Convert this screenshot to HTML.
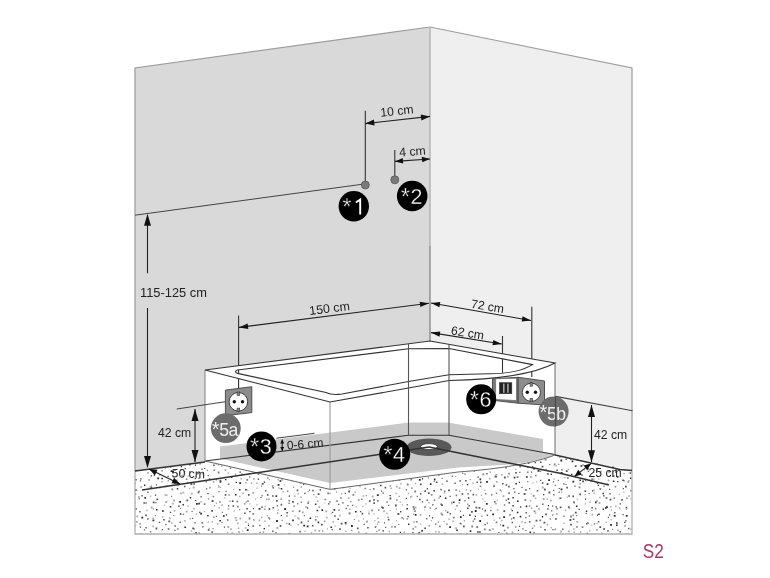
<!DOCTYPE html>
<html><head><meta charset="utf-8"><style>
html,body{margin:0;padding:0;background:#fff;width:770px;height:578px;overflow:hidden}
svg{display:block;will-change:transform}
</style></head><body><svg width="770" height="578" viewBox="0 0 770 578" font-family='"Liberation Sans", sans-serif'><polygon points="135,68 430,27 430,436 135,471" fill="#d9d9d9" stroke="none" stroke-width="1" /><polygon points="430,27 632,68 632,470 430,436" fill="#efefef" stroke="none" stroke-width="1" /><path d="M135,471 L135,68 L430,27 L632,68 L632,470" fill="none" stroke="#9c9c9c" stroke-width="1.2" /><line x1="430" y1="27" x2="430" y2="246" stroke="#b8b8b8" stroke-width="1.6"/><line x1="430" y1="246" x2="430" y2="341" stroke="#8a8a8a" stroke-width="1.4"/><clipPath id="fc"><polygon points="135,471 205,462 430,434 555,455 632,470 632,534 135,534"/></clipPath><polygon points="135,471 205,462 430,434 555,455 632,470 632,534 135,534" fill="#ffffff" stroke="none" stroke-width="1" /><g clip-path="url(#fc)"><path d="M144.0 428.3h1.2v1.2h-1.2zM158.0 429.1h1.8v1.8h-1.8zM167.0 426.8h1.6v1.6h-1.6zM173.8 429.7h1.4v1.4h-1.4zM178.2 429.0h1.2v1.2h-1.2zM246.7 430.1h1.4v1.4h-1.4zM311.8 429.2h1.4v1.4h-1.4zM326.7 429.3h1.6v1.6h-1.6zM354.1 428.9h1.2v1.2h-1.2zM486.9 428.8h1.8v1.8h-1.8zM553.0 430.8h1.6v1.6h-1.6zM570.3 430.5h1.8v1.8h-1.8zM577.5 429.9h1.8v1.8h-1.8zM623.8 427.5h1.2v1.2h-1.2zM631.2 426.7h1.8v1.8h-1.8zM138.0 432.8h1.4v1.4h-1.4zM150.8 434.1h1.6v1.6h-1.6zM158.9 436.8h1.2v1.2h-1.2zM183.8 433.3h1.4v1.4h-1.4zM201.0 435.1h1.4v1.4h-1.4zM225.3 435.8h1.2v1.2h-1.2zM250.3 434.9h1.8v1.8h-1.8zM255.8 435.8h1.2v1.2h-1.2zM270.0 433.8h1.2v1.2h-1.2zM309.1 434.9h1.4v1.4h-1.4zM329.9 433.9h1.4v1.4h-1.4zM377.7 435.9h1.6v1.6h-1.6zM394.3 436.1h1.8v1.8h-1.8zM418.0 433.7h1.8v1.8h-1.8zM433.5 432.9h1.4v1.4h-1.4zM477.6 432.5h1.8v1.8h-1.8zM516.2 434.0h1.8v1.8h-1.8zM521.7 432.7h1.4v1.4h-1.4zM522.6 436.6h1.8v1.8h-1.8zM527.7 435.6h1.4v1.4h-1.4zM547.2 432.0h1.4v1.4h-1.4zM588.6 433.5h1.6v1.6h-1.6zM604.2 436.2h1.8v1.8h-1.8zM149.1 439.2h1.2v1.2h-1.2zM164.4 439.1h1.8v1.8h-1.8zM172.8 441.6h1.8v1.8h-1.8zM245.1 438.1h1.2v1.2h-1.2zM249.0 439.7h1.8v1.8h-1.8zM333.0 438.6h1.6v1.6h-1.6zM363.3 437.3h1.6v1.6h-1.6zM420.8 441.3h1.8v1.8h-1.8zM493.8 439.0h1.6v1.6h-1.6zM509.8 439.6h1.8v1.8h-1.8zM514.5 441.0h1.2v1.2h-1.2zM557.9 441.6h1.6v1.6h-1.6zM135.2 443.6h1.6v1.6h-1.6zM145.1 447.1h1.2v1.2h-1.2zM151.4 443.5h1.2v1.2h-1.2zM182.0 445.7h1.2v1.2h-1.2zM188.4 445.7h1.6v1.6h-1.6zM227.3 445.1h1.2v1.2h-1.2zM241.8 442.3h1.4v1.4h-1.4zM248.3 443.0h1.2v1.2h-1.2zM252.5 445.7h1.2v1.2h-1.2zM274.0 443.3h1.2v1.2h-1.2zM296.7 444.5h1.6v1.6h-1.6zM334.4 446.3h1.6v1.6h-1.6zM394.1 444.0h1.8v1.8h-1.8zM401.2 446.2h1.8v1.8h-1.8zM447.3 444.3h1.8v1.8h-1.8zM494.0 444.8h1.8v1.8h-1.8zM505.8 445.1h1.4v1.4h-1.4zM539.5 444.4h1.8v1.8h-1.8zM158.2 448.2h1.8v1.8h-1.8zM192.4 451.3h1.6v1.6h-1.6zM236.6 451.5h1.2v1.2h-1.2zM273.9 448.6h1.2v1.2h-1.2zM290.6 447.8h1.2v1.2h-1.2zM313.8 449.8h1.8v1.8h-1.8zM317.7 448.4h1.2v1.2h-1.2zM358.3 447.7h1.2v1.2h-1.2zM402.3 451.5h1.4v1.4h-1.4zM418.2 449.1h1.6v1.6h-1.6zM456.6 450.8h1.8v1.8h-1.8zM480.8 450.4h1.2v1.2h-1.2zM492.8 451.9h1.2v1.2h-1.2zM496.7 450.4h1.2v1.2h-1.2zM537.6 451.4h1.6v1.6h-1.6zM554.2 448.8h1.6v1.6h-1.6zM615.3 448.9h1.6v1.6h-1.6zM619.8 448.8h1.8v1.8h-1.8zM632.1 448.9h1.6v1.6h-1.6zM140.9 455.6h1.2v1.2h-1.2zM169.9 458.3h1.2v1.2h-1.2zM190.1 453.7h1.4v1.4h-1.4zM196.2 454.1h1.2v1.2h-1.2zM211.7 454.1h1.8v1.8h-1.8zM337.2 457.6h1.4v1.4h-1.4zM347.2 453.1h1.4v1.4h-1.4zM374.0 457.4h1.2v1.2h-1.2zM442.4 457.2h1.2v1.2h-1.2zM611.9 453.1h1.2v1.2h-1.2zM618.6 455.1h1.2v1.2h-1.2zM632.9 455.2h1.4v1.4h-1.4zM135.8 461.2h1.2v1.2h-1.2zM148.2 458.7h1.6v1.6h-1.6zM177.1 461.6h1.2v1.2h-1.2zM284.4 462.3h1.2v1.2h-1.2zM291.7 458.9h1.4v1.4h-1.4zM296.7 462.0h1.6v1.6h-1.6zM342.0 458.6h1.4v1.4h-1.4zM345.9 462.5h1.2v1.2h-1.2zM422.1 459.7h1.6v1.6h-1.6zM454.6 462.5h1.4v1.4h-1.4zM477.0 460.8h1.6v1.6h-1.6zM560.4 459.6h1.8v1.8h-1.8zM571.6 460.4h1.8v1.8h-1.8zM576.6 458.8h1.8v1.8h-1.8zM586.0 458.7h1.4v1.4h-1.4zM155.8 466.9h1.2v1.2h-1.2zM180.7 465.9h1.4v1.4h-1.4zM184.6 468.0h1.2v1.2h-1.2zM189.2 464.1h1.4v1.4h-1.4zM194.9 464.5h1.2v1.2h-1.2zM236.2 463.9h1.6v1.6h-1.6zM259.8 466.4h1.2v1.2h-1.2zM287.4 464.0h1.6v1.6h-1.6zM309.2 467.7h1.8v1.8h-1.8zM419.0 467.0h1.6v1.6h-1.6zM447.6 466.3h1.6v1.6h-1.6zM454.6 469.1h1.6v1.6h-1.6zM477.6 466.4h1.6v1.6h-1.6zM505.3 467.2h1.4v1.4h-1.4zM533.2 467.8h1.8v1.8h-1.8zM633.6 467.7h1.6v1.6h-1.6zM153.7 474.4h1.4v1.4h-1.4zM170.6 470.3h1.6v1.6h-1.6zM172.2 471.0h1.8v1.8h-1.8zM268.8 472.8h1.2v1.2h-1.2zM319.7 469.5h1.6v1.6h-1.6zM363.4 471.0h1.8v1.8h-1.8zM443.6 471.5h1.6v1.6h-1.6zM471.7 469.2h1.6v1.6h-1.6zM515.3 472.1h1.4v1.4h-1.4zM537.6 469.9h1.8v1.8h-1.8zM550.6 473.7h1.4v1.4h-1.4zM560.8 472.1h1.8v1.8h-1.8zM571.0 473.7h1.4v1.4h-1.4zM615.4 471.2h1.6v1.6h-1.6zM135.2 479.1h1.4v1.4h-1.4zM140.3 478.2h1.2v1.2h-1.2zM157.3 477.5h1.8v1.8h-1.8zM161.3 477.7h1.6v1.6h-1.6zM194.7 478.0h1.2v1.2h-1.2zM225.0 478.9h1.4v1.4h-1.4zM231.0 476.5h1.4v1.4h-1.4zM249.2 476.4h1.2v1.2h-1.2zM315.7 476.8h1.6v1.6h-1.6zM322.0 477.2h1.2v1.2h-1.2zM340.3 477.1h1.6v1.6h-1.6zM361.9 476.4h1.4v1.4h-1.4zM418.9 479.0h1.8v1.8h-1.8zM421.9 478.3h1.2v1.2h-1.2zM433.9 478.6h1.6v1.6h-1.6zM477.5 476.5h1.2v1.2h-1.2zM479.5 478.6h1.6v1.6h-1.6zM513.7 476.8h1.6v1.6h-1.6zM548.2 479.3h1.8v1.8h-1.8zM579.4 479.5h1.6v1.6h-1.6zM584.9 479.6h1.2v1.2h-1.2zM616.9 476.1h1.6v1.6h-1.6zM629.9 477.4h1.6v1.6h-1.6zM144.0 484.5h1.4v1.4h-1.4zM193.4 483.3h1.4v1.4h-1.4zM219.7 481.1h1.6v1.6h-1.6zM235.6 481.7h1.4v1.4h-1.4zM239.3 482.3h1.8v1.8h-1.8zM263.7 481.4h1.4v1.4h-1.4zM277.6 483.9h1.8v1.8h-1.8zM347.9 484.8h1.4v1.4h-1.4zM352.4 484.0h1.2v1.2h-1.2zM359.3 481.1h1.8v1.8h-1.8zM372.0 480.8h1.2v1.2h-1.2zM380.1 484.8h1.4v1.4h-1.4zM429.9 483.3h1.6v1.6h-1.6zM446.2 480.4h1.4v1.4h-1.4zM466.9 483.9h1.4v1.4h-1.4zM486.1 480.9h1.8v1.8h-1.8zM515.3 482.9h1.6v1.6h-1.6zM518.7 481.8h1.2v1.2h-1.2zM541.9 482.3h1.4v1.4h-1.4zM546.7 483.3h1.6v1.6h-1.6zM572.4 480.8h1.8v1.8h-1.8zM612.8 480.4h1.6v1.6h-1.6zM617.2 481.0h1.2v1.2h-1.2zM627.5 481.2h1.2v1.2h-1.2zM135.0 489.3h1.6v1.6h-1.6zM176.8 488.0h1.4v1.4h-1.4zM239.1 489.1h1.4v1.4h-1.4zM245.2 489.0h1.6v1.6h-1.6zM280.7 488.0h1.6v1.6h-1.6zM319.6 489.2h1.4v1.4h-1.4zM333.7 487.7h1.8v1.8h-1.8zM433.5 490.1h1.4v1.4h-1.4zM560.6 488.5h1.8v1.8h-1.8zM592.0 490.3h1.2v1.2h-1.2zM154.9 494.5h1.2v1.2h-1.2zM228.5 494.4h1.2v1.2h-1.2zM234.9 493.9h1.6v1.6h-1.6zM267.0 494.3h1.4v1.4h-1.4zM275.5 495.3h1.6v1.6h-1.6zM288.8 495.5h1.2v1.2h-1.2zM304.3 492.7h1.2v1.2h-1.2zM376.9 494.2h1.8v1.8h-1.8zM389.5 494.9h1.4v1.4h-1.4zM420.0 493.2h1.4v1.4h-1.4zM431.2 494.2h1.2v1.2h-1.2zM439.7 495.7h1.4v1.4h-1.4zM467.5 493.2h1.2v1.2h-1.2zM514.2 491.6h1.2v1.2h-1.2zM518.3 492.9h1.2v1.2h-1.2zM543.1 494.1h1.2v1.2h-1.2zM602.5 492.8h1.4v1.4h-1.4zM603.1 495.2h1.4v1.4h-1.4zM609.4 493.2h1.2v1.2h-1.2zM633.2 494.6h1.4v1.4h-1.4zM138.3 496.4h1.2v1.2h-1.2zM144.4 497.1h1.6v1.6h-1.6zM179.2 501.0h1.8v1.8h-1.8zM189.8 497.0h1.4v1.4h-1.4zM195.1 499.9h1.2v1.2h-1.2zM396.3 499.4h1.2v1.2h-1.2zM444.9 497.5h1.6v1.6h-1.6zM453.0 501.5h1.6v1.6h-1.6zM458.7 499.3h1.8v1.8h-1.8zM467.9 497.3h1.4v1.4h-1.4zM507.6 498.2h1.6v1.6h-1.6zM512.4 497.0h1.4v1.4h-1.4zM517.0 500.5h1.6v1.6h-1.6zM559.5 497.5h1.4v1.4h-1.4zM585.0 498.5h1.2v1.2h-1.2zM169.7 505.9h1.6v1.6h-1.6zM182.5 504.0h1.4v1.4h-1.4zM196.0 503.0h1.8v1.8h-1.8zM198.3 502.8h1.6v1.6h-1.6zM228.1 505.2h1.2v1.2h-1.2zM307.4 502.4h1.4v1.4h-1.4zM315.0 503.5h1.4v1.4h-1.4zM381.4 506.5h1.4v1.4h-1.4zM441.3 504.5h1.6v1.6h-1.6zM468.5 505.2h1.4v1.4h-1.4zM485.9 503.0h1.8v1.8h-1.8zM508.5 502.0h1.4v1.4h-1.4zM512.4 505.1h1.4v1.4h-1.4zM525.7 505.6h1.6v1.6h-1.6zM547.8 505.1h1.2v1.2h-1.2zM555.6 506.2h1.2v1.2h-1.2zM575.9 505.5h1.6v1.6h-1.6zM595.0 501.6h1.6v1.6h-1.6zM606.1 506.3h1.8v1.8h-1.8zM619.7 503.3h1.2v1.2h-1.2zM156.0 508.9h1.6v1.6h-1.6zM249.4 511.0h1.2v1.2h-1.2zM258.6 508.0h1.8v1.8h-1.8zM268.6 508.2h1.6v1.6h-1.6zM284.2 508.1h1.8v1.8h-1.8zM316.6 509.7h1.6v1.6h-1.6zM321.5 509.3h1.6v1.6h-1.6zM333.6 509.1h1.6v1.6h-1.6zM355.0 510.9h1.6v1.6h-1.6zM406.3 507.9h1.6v1.6h-1.6zM467.1 507.5h1.4v1.4h-1.4zM474.8 510.1h1.8v1.8h-1.8zM511.7 510.0h1.2v1.2h-1.2zM516.8 511.7h1.6v1.6h-1.6zM585.8 510.6h1.4v1.4h-1.4zM602.6 508.6h1.4v1.4h-1.4zM141.4 516.8h1.8v1.8h-1.8zM179.9 513.3h1.4v1.4h-1.4zM200.2 512.8h1.8v1.8h-1.8zM207.2 515.1h1.4v1.4h-1.4zM225.9 514.2h1.2v1.2h-1.2zM280.7 514.9h1.2v1.2h-1.2zM309.6 517.5h1.6v1.6h-1.6zM414.9 514.1h1.6v1.6h-1.6zM431.9 517.2h1.2v1.2h-1.2zM459.9 516.2h1.8v1.8h-1.8zM474.8 515.8h1.2v1.2h-1.2zM492.2 513.4h1.8v1.8h-1.8zM503.2 516.3h1.8v1.8h-1.8zM519.7 515.8h1.6v1.6h-1.6zM541.8 516.1h1.4v1.4h-1.4zM552.2 514.4h1.2v1.2h-1.2zM596.9 514.6h1.2v1.2h-1.2zM598.3 513.5h1.4v1.4h-1.4zM613.8 515.0h1.8v1.8h-1.8zM625.8 514.9h1.8v1.8h-1.8zM152.5 519.5h1.8v1.8h-1.8zM219.3 520.0h1.6v1.6h-1.6zM276.1 520.1h1.8v1.8h-1.8zM292.2 519.6h1.6v1.6h-1.6zM317.6 521.6h1.6v1.6h-1.6zM344.7 522.0h1.8v1.8h-1.8zM479.3 520.1h1.8v1.8h-1.8zM529.0 521.2h1.4v1.4h-1.4zM549.7 518.4h1.2v1.2h-1.2zM616.0 522.2h1.6v1.6h-1.6zM624.2 521.7h1.2v1.2h-1.2zM184.4 526.4h1.6v1.6h-1.6zM193.4 528.4h1.2v1.2h-1.2zM247.9 524.7h1.2v1.2h-1.2zM263.6 527.9h1.4v1.4h-1.4zM279.7 525.2h1.6v1.6h-1.6zM288.7 523.3h1.4v1.4h-1.4zM303.3 524.8h1.8v1.8h-1.8zM306.7 525.4h1.8v1.8h-1.8zM330.5 526.5h1.6v1.6h-1.6zM351.0 525.1h1.8v1.8h-1.8zM394.4 526.2h1.4v1.4h-1.4zM408.0 523.5h1.4v1.4h-1.4zM424.4 527.6h1.4v1.4h-1.4zM449.2 526.2h1.8v1.8h-1.8zM460.5 523.4h1.2v1.2h-1.2zM502.4 524.7h1.8v1.8h-1.8zM603.3 528.2h1.6v1.6h-1.6zM610.1 524.0h1.8v1.8h-1.8zM616.0 524.5h1.6v1.6h-1.6zM158.5 533.9h1.6v1.6h-1.6zM195.3 532.3h1.8v1.8h-1.8zM246.8 529.2h1.8v1.8h-1.8zM288.2 533.2h1.6v1.6h-1.6zM382.5 530.2h1.4v1.4h-1.4zM399.8 531.7h1.2v1.2h-1.2zM421.3 530.1h1.6v1.6h-1.6zM428.0 533.6h1.6v1.6h-1.6zM456.2 529.5h1.6v1.6h-1.6zM466.1 533.2h1.6v1.6h-1.6zM469.7 530.3h1.6v1.6h-1.6zM477.2 531.3h1.4v1.4h-1.4zM506.0 532.8h1.6v1.6h-1.6zM529.5 531.5h1.6v1.6h-1.6zM533.4 532.2h1.4v1.4h-1.4zM619.6 531.2h1.4v1.4h-1.4zM632.7 530.7h1.2v1.2h-1.2zM147.1 538.4h1.4v1.4h-1.4zM169.1 537.9h1.2v1.2h-1.2zM189.6 539.3h1.4v1.4h-1.4zM205.9 535.2h1.8v1.8h-1.8zM284.3 537.3h1.2v1.2h-1.2zM296.2 534.3h1.2v1.2h-1.2zM321.1 537.7h1.2v1.2h-1.2zM332.6 538.7h1.8v1.8h-1.8zM348.8 534.4h1.6v1.6h-1.6zM350.1 539.0h1.6v1.6h-1.6zM381.8 536.4h1.8v1.8h-1.8zM413.3 534.5h1.4v1.4h-1.4zM420.5 535.8h1.6v1.6h-1.6zM433.2 537.4h1.6v1.6h-1.6zM442.8 535.2h1.8v1.8h-1.8zM462.5 535.9h1.2v1.2h-1.2zM472.9 536.6h1.6v1.6h-1.6zM478.4 534.5h1.8v1.8h-1.8zM480.5 535.3h1.8v1.8h-1.8zM548.5 536.7h1.4v1.4h-1.4zM580.5 537.4h1.2v1.2h-1.2zM601.0 535.6h1.8v1.8h-1.8zM621.4 534.6h1.6v1.6h-1.6z" fill="#2a2a2a"/><path d="M189.5 431.0h1.4v1.4h-1.4zM196.7 429.8h1.6v1.6h-1.6zM225.2 426.5h1.2v1.2h-1.2zM267.3 427.5h1.6v1.6h-1.6zM271.7 428.1h1.2v1.2h-1.2zM274.4 427.3h1.8v1.8h-1.8zM283.3 427.0h1.4v1.4h-1.4zM306.1 426.4h1.4v1.4h-1.4zM363.6 427.4h1.4v1.4h-1.4zM391.1 428.6h1.6v1.6h-1.6zM418.3 426.6h1.4v1.4h-1.4zM459.8 431.0h1.4v1.4h-1.4zM466.9 427.1h1.6v1.6h-1.6zM470.5 430.1h1.8v1.8h-1.8zM510.4 426.3h1.2v1.2h-1.2zM537.6 430.8h1.8v1.8h-1.8zM538.7 426.7h1.2v1.2h-1.2zM547.0 428.3h1.6v1.6h-1.6zM575.8 428.2h1.6v1.6h-1.6zM583.6 426.1h1.6v1.6h-1.6zM597.2 426.6h1.2v1.2h-1.2zM143.5 436.6h1.4v1.4h-1.4zM144.9 433.1h1.4v1.4h-1.4zM164.0 434.4h1.8v1.8h-1.8zM179.9 436.7h1.4v1.4h-1.4zM204.1 433.8h1.6v1.6h-1.6zM213.9 434.4h1.6v1.6h-1.6zM215.2 432.4h1.2v1.2h-1.2zM222.0 434.1h1.2v1.2h-1.2zM294.0 436.0h1.4v1.4h-1.4zM300.8 436.3h1.2v1.2h-1.2zM316.7 431.7h1.2v1.2h-1.2zM325.7 435.0h1.6v1.6h-1.6zM364.6 435.2h1.8v1.8h-1.8zM372.8 435.3h1.8v1.8h-1.8zM391.7 433.0h1.8v1.8h-1.8zM401.7 436.0h1.2v1.2h-1.2zM413.6 433.8h1.6v1.6h-1.6zM424.9 435.4h1.4v1.4h-1.4zM436.3 433.6h1.6v1.6h-1.6zM444.8 436.7h1.4v1.4h-1.4zM447.8 434.4h1.4v1.4h-1.4zM460.0 433.8h1.8v1.8h-1.8zM464.7 434.4h1.4v1.4h-1.4zM469.6 431.9h1.6v1.6h-1.6zM480.7 435.4h1.6v1.6h-1.6zM485.8 431.7h1.6v1.6h-1.6zM495.3 436.2h1.8v1.8h-1.8zM557.1 436.8h1.6v1.6h-1.6zM568.0 431.6h1.6v1.6h-1.6zM576.2 432.6h1.6v1.6h-1.6zM582.4 431.6h1.8v1.8h-1.8zM596.0 434.1h1.4v1.4h-1.4zM599.1 435.8h1.4v1.4h-1.4zM618.7 432.2h1.4v1.4h-1.4zM619.1 434.6h1.2v1.2h-1.2zM138.6 440.4h1.6v1.6h-1.6zM157.6 440.9h1.6v1.6h-1.6zM166.5 439.7h1.6v1.6h-1.6zM177.5 440.2h1.8v1.8h-1.8zM219.2 438.9h1.8v1.8h-1.8zM233.5 438.6h1.6v1.6h-1.6zM256.6 442.1h1.2v1.2h-1.2zM277.6 438.4h1.6v1.6h-1.6zM280.8 440.8h1.4v1.4h-1.4zM285.2 438.1h1.4v1.4h-1.4zM310.7 437.0h1.2v1.2h-1.2zM348.0 439.0h1.6v1.6h-1.6zM354.7 437.3h1.4v1.4h-1.4zM367.4 438.3h1.2v1.2h-1.2zM372.3 439.9h1.8v1.8h-1.8zM403.5 440.2h1.4v1.4h-1.4zM445.3 437.8h1.8v1.8h-1.8zM451.3 437.6h1.4v1.4h-1.4zM471.3 438.5h1.8v1.8h-1.8zM476.8 439.2h1.2v1.2h-1.2zM497.1 437.3h1.2v1.2h-1.2zM522.5 441.6h1.4v1.4h-1.4zM530.9 440.7h1.6v1.6h-1.6zM535.9 438.2h1.6v1.6h-1.6zM542.9 439.3h1.8v1.8h-1.8zM550.8 437.9h1.6v1.6h-1.6zM583.0 437.2h1.2v1.2h-1.2zM588.2 439.6h1.6v1.6h-1.6zM596.0 440.8h1.6v1.6h-1.6zM608.5 439.9h1.6v1.6h-1.6zM616.5 439.0h1.4v1.4h-1.4zM169.8 443.1h1.6v1.6h-1.6zM206.7 447.4h1.2v1.2h-1.2zM219.1 446.2h1.8v1.8h-1.8zM288.7 445.6h1.2v1.2h-1.2zM314.5 442.4h1.8v1.8h-1.8zM330.5 443.8h1.4v1.4h-1.4zM368.6 444.1h1.8v1.8h-1.8zM375.4 446.2h1.2v1.2h-1.2zM378.0 443.8h1.4v1.4h-1.4zM383.4 447.0h1.8v1.8h-1.8zM406.7 443.6h1.6v1.6h-1.6zM410.9 447.0h1.4v1.4h-1.4zM425.5 444.0h1.2v1.2h-1.2zM430.9 445.8h1.4v1.4h-1.4zM456.2 444.6h1.6v1.6h-1.6zM476.9 445.7h1.6v1.6h-1.6zM549.4 443.8h1.4v1.4h-1.4zM567.5 445.2h1.4v1.4h-1.4zM588.0 444.2h1.8v1.8h-1.8zM599.3 445.7h1.8v1.8h-1.8zM609.0 443.8h1.2v1.2h-1.2zM625.5 442.6h1.2v1.2h-1.2zM632.9 446.8h1.8v1.8h-1.8zM185.2 452.1h1.8v1.8h-1.8zM209.1 451.2h1.4v1.4h-1.4zM215.5 449.4h1.2v1.2h-1.2zM249.3 447.9h1.2v1.2h-1.2zM283.7 451.1h1.4v1.4h-1.4zM288.4 450.6h1.6v1.6h-1.6zM303.5 452.6h1.2v1.2h-1.2zM351.5 452.6h1.2v1.2h-1.2zM384.0 451.8h1.6v1.6h-1.6zM391.0 450.7h1.2v1.2h-1.2zM406.2 449.3h1.4v1.4h-1.4zM447.9 447.9h1.4v1.4h-1.4zM470.4 450.8h1.4v1.4h-1.4zM473.7 452.0h1.6v1.6h-1.6zM507.0 451.8h1.8v1.8h-1.8zM544.4 452.2h1.4v1.4h-1.4zM578.3 449.6h1.6v1.6h-1.6zM583.8 448.5h1.4v1.4h-1.4zM612.7 451.0h1.6v1.6h-1.6zM156.9 454.4h1.4v1.4h-1.4zM183.5 453.2h1.6v1.6h-1.6zM234.9 454.4h1.6v1.6h-1.6zM343.4 458.0h1.8v1.8h-1.8zM355.6 455.3h1.8v1.8h-1.8zM365.4 456.5h1.6v1.6h-1.6zM377.4 455.8h1.2v1.2h-1.2zM398.3 453.7h1.8v1.8h-1.8zM422.5 455.5h1.4v1.4h-1.4zM437.1 454.8h1.4v1.4h-1.4zM480.8 453.6h1.2v1.2h-1.2zM518.8 455.0h1.6v1.6h-1.6zM600.1 454.0h1.2v1.2h-1.2zM150.0 459.7h1.2v1.2h-1.2zM161.9 460.8h1.2v1.2h-1.2zM173.2 461.7h1.2v1.2h-1.2zM186.5 462.8h1.6v1.6h-1.6zM203.7 459.3h1.2v1.2h-1.2zM215.8 463.1h1.2v1.2h-1.2zM226.9 460.9h1.8v1.8h-1.8zM230.4 462.0h1.4v1.4h-1.4zM236.9 459.1h1.4v1.4h-1.4zM255.2 461.5h1.8v1.8h-1.8zM259.9 459.6h1.4v1.4h-1.4zM271.2 460.4h1.4v1.4h-1.4zM304.7 462.5h1.6v1.6h-1.6zM321.7 459.4h1.6v1.6h-1.6zM328.7 463.0h1.2v1.2h-1.2zM357.5 462.3h1.8v1.8h-1.8zM369.7 462.6h1.2v1.2h-1.2zM379.7 458.6h1.6v1.6h-1.6zM392.2 461.7h1.2v1.2h-1.2zM394.1 463.5h1.6v1.6h-1.6zM405.7 462.1h1.4v1.4h-1.4zM445.9 460.3h1.4v1.4h-1.4zM463.0 460.0h1.4v1.4h-1.4zM468.0 463.2h1.2v1.2h-1.2zM481.0 461.5h1.2v1.2h-1.2zM495.4 461.0h1.4v1.4h-1.4zM504.4 460.1h1.2v1.2h-1.2zM520.6 462.9h1.4v1.4h-1.4zM527.8 462.3h1.6v1.6h-1.6zM534.6 461.9h1.4v1.4h-1.4zM540.0 461.4h1.6v1.6h-1.6zM565.5 458.6h1.4v1.4h-1.4zM591.5 459.3h1.8v1.8h-1.8zM134.9 465.1h1.6v1.6h-1.6zM204.1 467.8h1.2v1.2h-1.2zM213.1 464.5h1.6v1.6h-1.6zM229.8 467.4h1.4v1.4h-1.4zM242.0 466.8h1.8v1.8h-1.8zM250.9 467.0h1.6v1.6h-1.6zM256.9 463.9h1.4v1.4h-1.4zM280.7 466.7h1.4v1.4h-1.4zM312.7 466.5h1.4v1.4h-1.4zM340.9 467.2h1.8v1.8h-1.8zM397.1 465.3h1.2v1.2h-1.2zM401.7 467.2h1.2v1.2h-1.2zM404.2 466.0h1.6v1.6h-1.6zM413.1 467.3h1.2v1.2h-1.2zM423.1 463.8h1.2v1.2h-1.2zM428.1 468.8h1.6v1.6h-1.6zM457.8 463.9h1.2v1.2h-1.2zM464.3 465.8h1.4v1.4h-1.4zM471.3 467.0h1.6v1.6h-1.6zM486.0 466.7h1.6v1.6h-1.6zM495.6 467.2h1.2v1.2h-1.2zM532.1 465.9h1.2v1.2h-1.2zM541.6 465.7h1.8v1.8h-1.8zM561.2 469.2h1.4v1.4h-1.4zM574.8 465.3h1.8v1.8h-1.8zM580.5 465.1h1.8v1.8h-1.8zM586.8 468.0h1.8v1.8h-1.8zM596.7 469.2h1.2v1.2h-1.2zM612.3 466.3h1.8v1.8h-1.8zM624.3 464.0h1.2v1.2h-1.2zM624.6 466.5h1.8v1.8h-1.8zM141.2 469.2h1.4v1.4h-1.4zM159.2 474.4h1.2v1.2h-1.2zM161.5 470.2h1.2v1.2h-1.2zM183.8 470.9h1.4v1.4h-1.4zM189.1 471.3h1.4v1.4h-1.4zM197.2 472.6h1.6v1.6h-1.6zM254.6 471.8h1.4v1.4h-1.4zM257.6 473.3h1.4v1.4h-1.4zM265.4 473.6h1.4v1.4h-1.4zM279.5 470.0h1.2v1.2h-1.2zM292.0 469.7h1.8v1.8h-1.8zM327.0 470.6h1.8v1.8h-1.8zM333.5 474.4h1.6v1.6h-1.6zM343.2 473.1h1.2v1.2h-1.2zM347.4 470.8h1.6v1.6h-1.6zM390.4 473.2h1.2v1.2h-1.2zM397.2 470.8h1.8v1.8h-1.8zM401.8 469.8h1.2v1.2h-1.2zM423.8 470.0h1.2v1.2h-1.2zM429.3 470.0h1.2v1.2h-1.2zM447.5 471.3h1.6v1.6h-1.6zM453.2 469.9h1.6v1.6h-1.6zM464.4 473.5h1.2v1.2h-1.2zM473.4 470.4h1.4v1.4h-1.4zM486.2 473.1h1.4v1.4h-1.4zM519.2 471.7h1.2v1.2h-1.2zM531.0 471.6h1.2v1.2h-1.2zM547.2 473.1h1.6v1.6h-1.6zM556.3 469.4h1.6v1.6h-1.6zM565.8 470.2h1.8v1.8h-1.8zM587.7 470.7h1.2v1.2h-1.2zM608.5 471.0h1.4v1.4h-1.4zM630.0 472.3h1.4v1.4h-1.4zM150.6 475.2h1.4v1.4h-1.4zM167.4 475.7h1.4v1.4h-1.4zM185.9 478.4h1.4v1.4h-1.4zM198.3 477.7h1.2v1.2h-1.2zM207.6 475.0h1.2v1.2h-1.2zM219.5 479.7h1.8v1.8h-1.8zM257.7 478.5h1.4v1.4h-1.4zM320.2 479.5h1.6v1.6h-1.6zM332.1 477.2h1.6v1.6h-1.6zM335.3 476.4h1.6v1.6h-1.6zM351.2 477.5h1.4v1.4h-1.4zM380.6 479.8h1.2v1.2h-1.2zM398.3 478.7h1.8v1.8h-1.8zM403.4 478.0h1.6v1.6h-1.6zM465.1 479.9h1.6v1.6h-1.6zM494.6 475.6h1.8v1.8h-1.8zM495.9 476.3h1.2v1.2h-1.2zM503.9 476.6h1.8v1.8h-1.8zM525.9 476.1h1.8v1.8h-1.8zM539.9 479.7h1.4v1.4h-1.4zM567.2 477.3h1.4v1.4h-1.4zM622.3 479.5h1.6v1.6h-1.6zM139.9 480.3h1.2v1.2h-1.2zM155.8 484.3h1.2v1.2h-1.2zM190.5 483.1h1.8v1.8h-1.8zM261.8 482.9h1.8v1.8h-1.8zM279.5 480.1h1.8v1.8h-1.8zM303.0 483.5h1.4v1.4h-1.4zM314.4 480.7h1.8v1.8h-1.8zM338.8 482.7h1.4v1.4h-1.4zM389.6 485.2h1.2v1.2h-1.2zM419.9 483.5h1.8v1.8h-1.8zM433.7 480.5h1.2v1.2h-1.2zM435.9 481.5h1.6v1.6h-1.6zM454.4 482.5h1.4v1.4h-1.4zM476.5 481.6h1.4v1.4h-1.4zM480.0 481.6h1.6v1.6h-1.6zM496.3 481.3h1.2v1.2h-1.2zM502.0 482.9h1.6v1.6h-1.6zM505.6 484.2h1.6v1.6h-1.6zM552.9 481.3h1.2v1.2h-1.2zM582.2 480.5h1.8v1.8h-1.8zM596.7 482.5h1.4v1.4h-1.4zM597.6 484.5h1.4v1.4h-1.4zM607.1 483.6h1.2v1.2h-1.2zM623.5 480.3h1.2v1.2h-1.2zM150.4 486.4h1.8v1.8h-1.8zM166.7 485.6h1.2v1.2h-1.2zM183.9 485.7h1.6v1.6h-1.6zM206.0 488.2h1.2v1.2h-1.2zM265.0 490.0h1.4v1.4h-1.4zM272.5 487.0h1.4v1.4h-1.4zM296.7 489.6h1.6v1.6h-1.6zM300.6 486.4h1.2v1.2h-1.2zM308.9 489.6h1.2v1.2h-1.2zM325.0 486.9h1.4v1.4h-1.4zM332.8 486.1h1.2v1.2h-1.2zM348.2 490.6h1.8v1.8h-1.8zM380.9 490.6h1.2v1.2h-1.2zM384.6 486.8h1.6v1.6h-1.6zM424.4 490.3h1.6v1.6h-1.6zM426.7 488.1h1.4v1.4h-1.4zM448.1 489.5h1.8v1.8h-1.8zM493.2 485.4h1.6v1.6h-1.6zM499.7 489.6h1.2v1.2h-1.2zM508.1 485.8h1.6v1.6h-1.6zM513.3 488.0h1.2v1.2h-1.2zM521.4 486.8h1.2v1.2h-1.2zM525.2 489.2h1.6v1.6h-1.6zM529.0 488.1h1.2v1.2h-1.2zM536.7 489.9h1.6v1.6h-1.6zM543.9 488.6h1.8v1.8h-1.8zM553.1 489.7h1.2v1.2h-1.2zM558.7 487.9h1.2v1.2h-1.2zM566.3 486.8h1.6v1.6h-1.6zM584.5 490.3h1.6v1.6h-1.6zM599.5 488.2h1.6v1.6h-1.6zM609.1 488.8h1.2v1.2h-1.2zM622.7 488.0h1.2v1.2h-1.2zM625.0 485.8h1.8v1.8h-1.8zM164.6 494.4h1.2v1.2h-1.2zM197.6 491.4h1.8v1.8h-1.8zM207.3 492.9h1.4v1.4h-1.4zM224.7 494.1h1.6v1.6h-1.6zM248.0 494.1h1.6v1.6h-1.6zM272.1 495.2h1.6v1.6h-1.6zM317.7 493.3h1.8v1.8h-1.8zM344.7 492.8h1.2v1.2h-1.2zM382.5 492.4h1.4v1.4h-1.4zM427.9 492.2h1.8v1.8h-1.8zM449.5 495.7h1.2v1.2h-1.2zM472.6 493.8h1.6v1.6h-1.6zM491.1 494.2h1.4v1.4h-1.4zM523.7 493.1h1.8v1.8h-1.8zM548.5 491.6h1.8v1.8h-1.8zM568.3 495.2h1.6v1.6h-1.6zM572.4 495.6h1.6v1.6h-1.6zM579.3 493.4h1.8v1.8h-1.8zM588.6 492.9h1.2v1.2h-1.2zM628.4 495.4h1.2v1.2h-1.2zM152.8 501.4h1.8v1.8h-1.8zM156.4 498.4h1.8v1.8h-1.8zM186.4 499.4h1.8v1.8h-1.8zM211.7 500.1h1.8v1.8h-1.8zM231.9 500.3h1.6v1.6h-1.6zM260.4 496.9h1.2v1.2h-1.2zM268.4 498.6h1.2v1.2h-1.2zM276.1 500.1h1.6v1.6h-1.6zM292.1 500.9h1.8v1.8h-1.8zM329.3 501.2h1.4v1.4h-1.4zM348.2 497.4h1.2v1.2h-1.2zM368.9 500.2h1.8v1.8h-1.8zM373.2 499.1h1.6v1.6h-1.6zM389.5 497.6h1.8v1.8h-1.8zM405.7 497.7h1.4v1.4h-1.4zM410.1 496.4h1.2v1.2h-1.2zM419.0 498.7h1.6v1.6h-1.6zM421.8 501.2h1.4v1.4h-1.4zM426.5 499.5h1.4v1.4h-1.4zM433.8 499.4h1.4v1.4h-1.4zM473.7 501.2h1.6v1.6h-1.6zM573.2 501.3h1.4v1.4h-1.4zM596.4 500.5h1.2v1.2h-1.2zM609.6 498.7h1.8v1.8h-1.8zM613.6 497.4h1.4v1.4h-1.4zM621.2 499.1h1.6v1.6h-1.6zM155.3 502.0h1.2v1.2h-1.2zM178.1 505.4h1.6v1.6h-1.6zM232.5 505.2h1.6v1.6h-1.6zM272.5 506.9h1.6v1.6h-1.6zM276.8 505.3h1.2v1.2h-1.2zM280.6 503.8h1.6v1.6h-1.6zM288.5 502.8h1.2v1.2h-1.2zM293.5 505.6h1.2v1.2h-1.2zM338.1 503.7h1.2v1.2h-1.2zM342.2 502.2h1.4v1.4h-1.4zM347.3 505.0h1.2v1.2h-1.2zM352.1 504.7h1.2v1.2h-1.2zM373.4 502.3h1.6v1.6h-1.6zM382.0 506.9h1.8v1.8h-1.8zM388.1 504.8h1.2v1.2h-1.2zM395.0 504.6h1.8v1.8h-1.8zM424.3 506.3h1.4v1.4h-1.4zM440.4 503.5h1.4v1.4h-1.4zM475.5 506.8h1.8v1.8h-1.8zM478.6 507.0h1.8v1.8h-1.8zM520.0 506.3h1.4v1.4h-1.4zM536.2 505.6h1.4v1.4h-1.4zM542.1 503.6h1.4v1.4h-1.4zM559.7 506.4h1.8v1.8h-1.8zM567.9 506.3h1.6v1.6h-1.6zM573.7 502.3h1.2v1.2h-1.2zM591.3 506.9h1.6v1.6h-1.6zM625.6 506.8h1.6v1.6h-1.6zM139.2 511.1h1.4v1.4h-1.4zM162.0 510.1h1.8v1.8h-1.8zM169.8 511.7h1.4v1.4h-1.4zM191.5 510.9h1.2v1.2h-1.2zM199.0 511.7h1.4v1.4h-1.4zM211.2 509.9h1.8v1.8h-1.8zM246.3 507.9h1.6v1.6h-1.6zM252.9 508.1h1.2v1.2h-1.2zM286.4 512.0h1.6v1.6h-1.6zM306.9 507.3h1.4v1.4h-1.4zM331.8 511.7h1.4v1.4h-1.4zM338.3 509.4h1.4v1.4h-1.4zM359.9 510.9h1.4v1.4h-1.4zM378.1 509.4h1.4v1.4h-1.4zM400.0 511.1h1.4v1.4h-1.4zM429.6 507.6h1.2v1.2h-1.2zM435.5 507.8h1.2v1.2h-1.2zM446.9 511.4h1.6v1.6h-1.6zM459.9 510.5h1.2v1.2h-1.2zM471.0 510.9h1.8v1.8h-1.8zM481.8 508.6h1.2v1.2h-1.2zM484.5 509.8h1.6v1.6h-1.6zM503.4 510.2h1.8v1.8h-1.8zM525.5 512.0h1.4v1.4h-1.4zM574.9 511.7h1.8v1.8h-1.8zM578.4 508.7h1.4v1.4h-1.4zM604.9 507.1h1.8v1.8h-1.8zM614.1 512.1h1.4v1.4h-1.4zM145.2 514.6h1.6v1.6h-1.6zM192.1 517.8h1.2v1.2h-1.2zM215.8 515.8h1.2v1.2h-1.2zM222.9 515.1h1.8v1.8h-1.8zM244.1 512.5h1.6v1.6h-1.6zM334.1 515.2h1.6v1.6h-1.6zM348.7 512.5h1.8v1.8h-1.8zM361.6 512.8h1.6v1.6h-1.6zM397.5 513.1h1.8v1.8h-1.8zM407.4 515.7h1.6v1.6h-1.6zM429.0 515.3h1.2v1.2h-1.2zM449.6 513.0h1.4v1.4h-1.4zM462.8 514.7h1.2v1.2h-1.2zM469.0 514.2h1.8v1.8h-1.8zM486.7 514.5h1.4v1.4h-1.4zM499.3 517.6h1.2v1.2h-1.2zM512.8 516.9h1.8v1.8h-1.8zM525.3 517.1h1.2v1.2h-1.2zM545.1 513.5h1.8v1.8h-1.8zM585.6 512.7h1.2v1.2h-1.2zM607.8 516.8h1.2v1.2h-1.2zM609.0 514.2h1.2v1.2h-1.2zM622.4 513.9h1.4v1.4h-1.4zM136.2 521.3h1.2v1.2h-1.2zM147.2 518.3h1.4v1.4h-1.4zM158.8 521.7h1.4v1.4h-1.4zM163.1 519.0h1.6v1.6h-1.6zM168.4 520.4h1.8v1.8h-1.8zM227.0 519.3h1.4v1.4h-1.4zM269.1 518.4h1.2v1.2h-1.2zM300.6 521.6h1.8v1.8h-1.8zM337.4 518.5h1.6v1.6h-1.6zM340.7 522.8h1.8v1.8h-1.8zM383.9 522.2h1.2v1.2h-1.2zM387.8 518.8h1.6v1.6h-1.6zM413.5 521.4h1.2v1.2h-1.2zM459.7 522.8h1.2v1.2h-1.2zM473.9 518.3h1.4v1.4h-1.4zM510.9 518.4h1.2v1.2h-1.2zM511.6 521.8h1.4v1.4h-1.4zM535.6 519.8h1.8v1.8h-1.8zM543.5 521.7h1.8v1.8h-1.8zM569.5 519.1h1.8v1.8h-1.8zM572.8 518.4h1.6v1.6h-1.6zM586.1 523.0h1.4v1.4h-1.4zM597.9 521.0h1.4v1.4h-1.4zM634.4 520.2h1.4v1.4h-1.4zM139.8 526.4h1.4v1.4h-1.4zM145.4 527.0h1.4v1.4h-1.4zM155.5 527.6h1.8v1.8h-1.8zM165.3 524.0h1.2v1.2h-1.2zM167.7 528.2h1.6v1.6h-1.6zM174.5 525.3h1.4v1.4h-1.4zM192.3 527.4h1.8v1.8h-1.8zM202.2 526.2h1.4v1.4h-1.4zM223.8 526.4h1.4v1.4h-1.4zM230.4 528.5h1.2v1.2h-1.2zM311.9 524.9h1.6v1.6h-1.6zM320.9 523.7h1.8v1.8h-1.8zM339.2 528.3h1.6v1.6h-1.6zM356.9 527.6h1.6v1.6h-1.6zM363.6 523.7h1.2v1.2h-1.2zM367.1 526.9h1.6v1.6h-1.6zM374.7 526.2h1.6v1.6h-1.6zM385.1 526.7h1.2v1.2h-1.2zM412.5 528.2h1.4v1.4h-1.4zM435.0 523.4h1.4v1.4h-1.4zM455.5 527.6h1.2v1.2h-1.2zM462.9 525.4h1.8v1.8h-1.8zM484.4 523.9h1.4v1.4h-1.4zM500.0 524.4h1.2v1.2h-1.2zM518.9 525.7h1.2v1.2h-1.2zM522.3 528.3h1.2v1.2h-1.2zM562.1 528.5h1.4v1.4h-1.4zM570.1 523.8h1.8v1.8h-1.8zM573.3 528.4h1.2v1.2h-1.2zM593.9 523.3h1.2v1.2h-1.2zM599.4 526.3h1.8v1.8h-1.8zM628.0 527.8h1.4v1.4h-1.4zM133.8 533.6h1.4v1.4h-1.4zM140.6 533.2h1.4v1.4h-1.4zM161.7 528.9h1.4v1.4h-1.4zM168.6 533.9h1.2v1.2h-1.2zM174.3 529.8h1.2v1.2h-1.2zM178.6 533.9h1.6v1.6h-1.6zM216.7 533.6h1.2v1.2h-1.2zM272.1 530.5h1.4v1.4h-1.4zM322.1 530.4h1.2v1.2h-1.2zM331.6 529.0h1.2v1.2h-1.2zM365.6 532.7h1.6v1.6h-1.6zM412.3 531.9h1.4v1.4h-1.4zM418.3 531.9h1.8v1.8h-1.8zM498.2 531.9h1.2v1.2h-1.2zM517.9 529.7h1.2v1.2h-1.2zM525.4 529.9h1.2v1.2h-1.2zM540.7 533.7h1.4v1.4h-1.4zM544.2 529.0h1.6v1.6h-1.6zM552.3 529.1h1.2v1.2h-1.2zM586.4 532.7h1.8v1.8h-1.8zM136.4 534.5h1.4v1.4h-1.4zM154.1 535.2h1.4v1.4h-1.4zM175.7 535.7h1.8v1.8h-1.8zM177.7 539.0h1.6v1.6h-1.6zM247.1 534.1h1.6v1.6h-1.6zM262.5 534.4h1.8v1.8h-1.8zM274.3 535.7h1.8v1.8h-1.8zM283.0 535.0h1.8v1.8h-1.8zM291.9 539.0h1.2v1.2h-1.2zM360.8 535.1h1.2v1.2h-1.2zM393.2 537.1h1.8v1.8h-1.8zM416.6 536.9h1.8v1.8h-1.8zM429.5 539.1h1.2v1.2h-1.2zM449.4 534.6h1.6v1.6h-1.6zM507.1 539.2h1.4v1.4h-1.4zM512.0 537.1h1.2v1.2h-1.2zM537.4 538.6h1.4v1.4h-1.4zM562.1 535.5h1.4v1.4h-1.4zM565.9 535.6h1.8v1.8h-1.8zM592.0 539.1h1.4v1.4h-1.4zM611.8 536.1h1.2v1.2h-1.2zM631.2 536.2h1.2v1.2h-1.2z" fill="#555"/><path d="M134.7 426.8h1.2v1.2h-1.2zM142.8 426.5h1.4v1.4h-1.4zM152.2 426.3h1.4v1.4h-1.4zM160.3 427.2h1.4v1.4h-1.4zM184.9 428.7h1.6v1.6h-1.6zM206.5 426.4h1.4v1.4h-1.4zM212.7 426.8h1.2v1.2h-1.2zM219.2 426.4h1.6v1.6h-1.6zM221.2 427.9h1.8v1.8h-1.8zM230.5 429.8h1.8v1.8h-1.8zM237.1 428.1h1.2v1.2h-1.2zM246.1 427.9h1.8v1.8h-1.8zM253.9 431.0h1.4v1.4h-1.4zM286.5 428.0h1.4v1.4h-1.4zM293.3 428.8h1.2v1.2h-1.2zM302.5 428.1h1.8v1.8h-1.8zM319.5 431.1h1.2v1.2h-1.2zM332.6 429.3h1.2v1.2h-1.2zM337.4 431.4h1.8v1.8h-1.8zM346.2 429.7h1.4v1.4h-1.4zM358.5 427.6h1.2v1.2h-1.2zM367.1 427.2h1.6v1.6h-1.6zM398.0 426.6h1.6v1.6h-1.6zM425.1 431.1h1.8v1.8h-1.8zM432.2 431.1h1.4v1.4h-1.4zM440.8 426.1h1.8v1.8h-1.8zM449.7 427.9h1.4v1.4h-1.4zM451.7 430.3h1.2v1.2h-1.2zM482.2 430.4h1.4v1.4h-1.4zM495.7 428.6h1.2v1.2h-1.2zM502.0 428.8h1.2v1.2h-1.2zM515.2 428.7h1.2v1.2h-1.2zM518.8 429.3h1.4v1.4h-1.4zM525.5 428.4h1.8v1.8h-1.8zM529.9 427.3h1.6v1.6h-1.6zM609.0 431.0h1.6v1.6h-1.6zM614.1 426.3h1.8v1.8h-1.8zM166.7 433.8h1.8v1.8h-1.8zM232.3 433.0h1.2v1.2h-1.2zM245.1 435.3h1.6v1.6h-1.6zM263.1 431.6h1.2v1.2h-1.2zM276.8 435.1h1.2v1.2h-1.2zM296.2 434.9h1.8v1.8h-1.8zM313.0 434.9h1.4v1.4h-1.4zM334.5 431.9h1.6v1.6h-1.6zM424.1 436.5h1.2v1.2h-1.2zM455.1 431.8h1.8v1.8h-1.8zM490.1 434.1h1.4v1.4h-1.4zM533.9 436.4h1.6v1.6h-1.6zM543.2 434.8h1.8v1.8h-1.8zM550.9 432.6h1.2v1.2h-1.2zM563.1 436.2h1.4v1.4h-1.4zM611.5 436.2h1.2v1.2h-1.2zM625.4 433.8h1.6v1.6h-1.6zM134.0 440.3h1.8v1.8h-1.8zM188.1 437.1h1.6v1.6h-1.6zM193.9 442.0h1.6v1.6h-1.6zM208.7 438.1h1.8v1.8h-1.8zM223.8 437.5h1.2v1.2h-1.2zM239.8 440.0h1.8v1.8h-1.8zM263.5 437.5h1.4v1.4h-1.4zM272.0 441.4h1.2v1.2h-1.2zM298.5 437.3h1.2v1.2h-1.2zM325.3 441.0h1.2v1.2h-1.2zM328.0 440.0h1.4v1.4h-1.4zM349.4 437.0h1.8v1.8h-1.8zM397.7 439.8h1.8v1.8h-1.8zM409.2 438.3h1.2v1.2h-1.2zM426.3 440.1h1.2v1.2h-1.2zM438.9 441.4h1.4v1.4h-1.4zM461.8 441.3h1.6v1.6h-1.6zM463.0 440.0h1.6v1.6h-1.6zM478.6 442.1h1.8v1.8h-1.8zM488.1 441.0h1.4v1.4h-1.4zM544.5 438.2h1.6v1.6h-1.6zM560.2 439.7h1.6v1.6h-1.6zM570.2 439.2h1.2v1.2h-1.2zM577.2 442.1h1.6v1.6h-1.6zM600.7 439.1h1.2v1.2h-1.2zM603.5 438.0h1.2v1.2h-1.2zM620.1 440.2h1.4v1.4h-1.4zM624.5 441.1h1.8v1.8h-1.8zM141.6 445.3h1.8v1.8h-1.8zM162.2 445.0h1.8v1.8h-1.8zM174.2 447.6h1.8v1.8h-1.8zM196.2 443.6h1.8v1.8h-1.8zM232.6 446.1h1.6v1.6h-1.6zM239.9 444.3h1.4v1.4h-1.4zM261.2 442.6h1.6v1.6h-1.6zM263.7 447.4h1.2v1.2h-1.2zM272.8 446.3h1.8v1.8h-1.8zM290.3 446.5h1.6v1.6h-1.6zM310.0 445.5h1.6v1.6h-1.6zM319.4 442.7h1.2v1.2h-1.2zM357.1 442.8h1.2v1.2h-1.2zM362.4 447.6h1.2v1.2h-1.2zM387.5 445.4h1.2v1.2h-1.2zM423.1 447.5h1.6v1.6h-1.6zM459.5 443.0h1.8v1.8h-1.8zM472.4 445.8h1.4v1.4h-1.4zM488.2 446.1h1.6v1.6h-1.6zM504.4 444.3h1.2v1.2h-1.2zM513.8 442.7h1.4v1.4h-1.4zM520.3 445.0h1.6v1.6h-1.6zM532.5 443.2h1.2v1.2h-1.2zM536.5 445.5h1.6v1.6h-1.6zM548.3 445.6h1.6v1.6h-1.6zM559.6 447.4h1.4v1.4h-1.4zM578.3 443.8h1.4v1.4h-1.4zM605.1 445.6h1.6v1.6h-1.6zM621.9 444.1h1.2v1.2h-1.2zM150.3 451.3h1.8v1.8h-1.8zM161.3 448.4h1.2v1.2h-1.2zM168.0 452.5h1.4v1.4h-1.4zM177.1 449.3h1.8v1.8h-1.8zM195.8 447.8h1.6v1.6h-1.6zM202.2 448.1h1.4v1.4h-1.4zM203.4 451.5h1.6v1.6h-1.6zM245.2 447.8h1.8v1.8h-1.8zM252.1 452.0h1.2v1.2h-1.2zM261.5 452.5h1.4v1.4h-1.4zM266.0 451.4h1.2v1.2h-1.2zM269.1 451.2h1.4v1.4h-1.4zM328.6 448.3h1.6v1.6h-1.6zM347.5 448.1h1.8v1.8h-1.8zM361.9 449.3h1.8v1.8h-1.8zM378.0 451.1h1.8v1.8h-1.8zM410.4 451.3h1.4v1.4h-1.4zM437.3 448.1h1.8v1.8h-1.8zM501.3 452.3h1.4v1.4h-1.4zM522.3 447.9h1.8v1.8h-1.8zM559.3 447.9h1.2v1.2h-1.2zM574.1 449.2h1.2v1.2h-1.2zM591.5 452.4h1.4v1.4h-1.4zM134.8 453.9h1.6v1.6h-1.6zM173.2 455.7h1.8v1.8h-1.8zM176.2 457.5h1.4v1.4h-1.4zM204.3 456.3h1.4v1.4h-1.4zM218.5 457.9h1.6v1.6h-1.6zM235.8 456.8h1.2v1.2h-1.2zM256.0 457.7h1.2v1.2h-1.2zM265.4 455.9h1.2v1.2h-1.2zM269.3 453.5h1.4v1.4h-1.4zM284.3 456.2h1.4v1.4h-1.4zM295.2 453.7h1.6v1.6h-1.6zM310.4 453.8h1.8v1.8h-1.8zM320.3 456.2h1.2v1.2h-1.2zM329.6 457.5h1.6v1.6h-1.6zM349.4 455.3h1.2v1.2h-1.2zM383.0 454.6h1.2v1.2h-1.2zM412.9 456.3h1.8v1.8h-1.8zM414.9 456.8h1.6v1.6h-1.6zM426.4 454.0h1.8v1.8h-1.8zM449.5 454.9h1.8v1.8h-1.8zM464.2 454.9h1.6v1.6h-1.6zM474.7 456.4h1.4v1.4h-1.4zM486.7 458.2h1.8v1.8h-1.8zM494.0 454.5h1.2v1.2h-1.2zM496.8 455.4h1.6v1.6h-1.6zM501.8 455.1h1.8v1.8h-1.8zM513.1 454.6h1.4v1.4h-1.4zM543.0 457.2h1.8v1.8h-1.8zM546.2 455.8h1.8v1.8h-1.8zM551.3 453.2h1.8v1.8h-1.8zM559.3 456.7h1.2v1.2h-1.2zM561.8 455.7h1.4v1.4h-1.4zM569.8 458.2h1.8v1.8h-1.8zM574.5 457.9h1.2v1.2h-1.2zM604.7 458.4h1.2v1.2h-1.2zM622.6 454.1h1.6v1.6h-1.6zM629.1 457.8h1.4v1.4h-1.4zM196.1 462.0h1.8v1.8h-1.8zM199.5 463.1h1.4v1.4h-1.4zM213.8 460.0h1.2v1.2h-1.2zM247.3 460.3h1.8v1.8h-1.8zM267.7 463.8h1.8v1.8h-1.8zM274.1 462.5h1.2v1.2h-1.2zM326.8 458.5h1.8v1.8h-1.8zM375.3 461.6h1.4v1.4h-1.4zM385.4 458.9h1.8v1.8h-1.8zM426.5 458.9h1.4v1.4h-1.4zM430.7 462.2h1.4v1.4h-1.4zM439.2 458.4h1.4v1.4h-1.4zM449.4 459.7h1.2v1.2h-1.2zM544.7 458.6h1.8v1.8h-1.8zM553.7 463.5h1.8v1.8h-1.8zM558.1 463.8h1.2v1.2h-1.2zM596.3 462.0h1.8v1.8h-1.8zM597.9 460.1h1.4v1.4h-1.4zM608.1 463.6h1.2v1.2h-1.2zM612.1 460.2h1.8v1.8h-1.8zM618.7 461.0h1.6v1.6h-1.6zM623.7 461.3h1.4v1.4h-1.4zM625.6 462.4h1.4v1.4h-1.4zM633.4 460.4h1.8v1.8h-1.8zM145.0 468.3h1.4v1.4h-1.4zM152.1 465.2h1.8v1.8h-1.8zM170.1 466.8h1.2v1.2h-1.2zM174.2 469.0h1.8v1.8h-1.8zM201.2 468.5h1.6v1.6h-1.6zM217.9 464.0h1.2v1.2h-1.2zM221.3 465.6h1.2v1.2h-1.2zM263.0 467.2h1.8v1.8h-1.8zM272.6 469.0h1.8v1.8h-1.8zM275.5 468.5h1.2v1.2h-1.2zM293.5 465.6h1.6v1.6h-1.6zM296.7 465.6h1.4v1.4h-1.4zM322.0 464.0h1.2v1.2h-1.2zM326.7 468.0h1.2v1.2h-1.2zM345.4 467.6h1.8v1.8h-1.8zM368.4 464.6h1.6v1.6h-1.6zM383.0 465.7h1.8v1.8h-1.8zM434.7 463.9h1.6v1.6h-1.6zM444.2 465.6h1.8v1.8h-1.8zM482.1 466.8h1.6v1.6h-1.6zM489.4 466.4h1.6v1.6h-1.6zM519.3 465.7h1.8v1.8h-1.8zM527.1 466.5h1.6v1.6h-1.6zM549.0 463.9h1.4v1.4h-1.4zM615.4 468.8h1.6v1.6h-1.6zM179.1 472.2h1.6v1.6h-1.6zM206.8 469.7h1.2v1.2h-1.2zM213.5 469.5h1.6v1.6h-1.6zM217.7 471.6h1.8v1.8h-1.8zM239.4 471.3h1.6v1.6h-1.6zM241.4 473.5h1.6v1.6h-1.6zM286.2 472.8h1.6v1.6h-1.6zM298.8 471.6h1.4v1.4h-1.4zM304.5 470.0h1.6v1.6h-1.6zM308.4 472.8h1.6v1.6h-1.6zM315.5 470.6h1.2v1.2h-1.2zM350.9 471.3h1.4v1.4h-1.4zM359.7 473.8h1.2v1.2h-1.2zM367.2 472.0h1.2v1.2h-1.2zM406.1 469.3h1.4v1.4h-1.4zM411.4 469.5h1.6v1.6h-1.6zM416.4 469.5h1.8v1.8h-1.8zM431.0 472.1h1.2v1.2h-1.2zM462.0 472.7h1.4v1.4h-1.4zM482.4 473.5h1.8v1.8h-1.8zM489.7 471.5h1.2v1.2h-1.2zM501.2 474.2h1.4v1.4h-1.4zM508.3 472.8h1.6v1.6h-1.6zM526.9 471.4h1.6v1.6h-1.6zM539.6 470.5h1.6v1.6h-1.6zM581.2 474.3h1.6v1.6h-1.6zM600.5 470.8h1.2v1.2h-1.2zM623.4 473.1h1.2v1.2h-1.2zM628.7 472.4h1.2v1.2h-1.2zM148.3 479.3h1.4v1.4h-1.4zM176.1 479.5h1.4v1.4h-1.4zM208.8 477.9h1.6v1.6h-1.6zM215.8 479.0h1.4v1.4h-1.4zM240.6 478.3h1.2v1.2h-1.2zM246.4 478.9h1.8v1.8h-1.8zM288.2 477.8h1.2v1.2h-1.2zM296.3 477.8h1.8v1.8h-1.8zM344.1 476.1h1.8v1.8h-1.8zM366.4 479.4h1.8v1.8h-1.8zM410.4 478.2h1.8v1.8h-1.8zM441.6 477.8h1.2v1.2h-1.2zM451.6 475.5h1.6v1.6h-1.6zM459.3 479.9h1.8v1.8h-1.8zM469.6 479.1h1.2v1.2h-1.2zM516.6 476.1h1.8v1.8h-1.8zM530.1 476.2h1.6v1.6h-1.6zM535.0 474.7h1.6v1.6h-1.6zM557.7 479.8h1.2v1.2h-1.2zM591.2 478.2h1.8v1.8h-1.8zM612.9 475.3h1.8v1.8h-1.8zM167.7 480.3h1.2v1.2h-1.2zM174.0 482.2h1.8v1.8h-1.8zM205.6 481.1h1.4v1.4h-1.4zM227.8 483.4h1.6v1.6h-1.6zM299.6 481.8h1.8v1.8h-1.8zM319.7 485.0h1.8v1.8h-1.8zM326.1 483.1h1.8v1.8h-1.8zM369.4 480.2h1.8v1.8h-1.8zM385.8 480.9h1.2v1.2h-1.2zM392.6 480.2h1.2v1.2h-1.2zM400.3 483.3h1.2v1.2h-1.2zM406.8 483.6h1.8v1.8h-1.8zM527.0 480.9h1.4v1.4h-1.4zM554.7 484.7h1.4v1.4h-1.4zM563.1 483.2h1.6v1.6h-1.6zM565.4 483.9h1.2v1.2h-1.2zM140.4 486.3h1.4v1.4h-1.4zM164.7 485.7h1.6v1.6h-1.6zM171.4 488.4h1.8v1.8h-1.8zM198.4 490.5h1.4v1.4h-1.4zM225.4 490.7h1.4v1.4h-1.4zM261.0 485.5h1.2v1.2h-1.2zM278.5 487.6h1.2v1.2h-1.2zM287.0 490.5h1.4v1.4h-1.4zM312.0 489.8h1.8v1.8h-1.8zM342.5 486.8h1.4v1.4h-1.4zM364.5 487.7h1.6v1.6h-1.6zM369.6 488.9h1.2v1.2h-1.2zM373.0 488.1h1.6v1.6h-1.6zM405.6 489.1h1.4v1.4h-1.4zM414.3 490.6h1.8v1.8h-1.8zM440.2 488.7h1.8v1.8h-1.8zM443.9 490.5h1.6v1.6h-1.6zM469.8 490.0h1.4v1.4h-1.4zM479.7 485.5h1.6v1.6h-1.6zM574.3 485.6h1.4v1.4h-1.4zM578.6 486.5h1.8v1.8h-1.8zM603.3 485.7h1.4v1.4h-1.4zM614.7 486.0h1.6v1.6h-1.6zM630.2 489.7h1.8v1.8h-1.8zM134.7 493.4h1.6v1.6h-1.6zM141.3 495.0h1.6v1.6h-1.6zM147.1 491.4h1.6v1.6h-1.6zM166.2 494.6h1.2v1.2h-1.2zM171.0 495.7h1.2v1.2h-1.2zM200.4 496.0h1.6v1.6h-1.6zM212.6 495.7h1.6v1.6h-1.6zM218.3 490.9h1.4v1.4h-1.4zM261.3 495.0h1.4v1.4h-1.4zM313.2 494.1h1.2v1.2h-1.2zM327.2 492.5h1.8v1.8h-1.8zM335.9 491.4h1.2v1.2h-1.2zM352.5 493.9h1.8v1.8h-1.8zM365.7 495.1h1.2v1.2h-1.2zM398.6 495.7h1.2v1.2h-1.2zM416.6 495.8h1.4v1.4h-1.4zM455.6 494.6h1.6v1.6h-1.6zM461.5 493.1h1.8v1.8h-1.8zM484.9 493.0h1.6v1.6h-1.6zM495.8 492.5h1.4v1.4h-1.4zM508.2 492.3h1.8v1.8h-1.8zM532.8 495.0h1.8v1.8h-1.8zM553.1 494.0h1.6v1.6h-1.6zM558.5 491.6h1.4v1.4h-1.4zM138.6 498.0h1.4v1.4h-1.4zM165.3 501.6h1.4v1.4h-1.4zM200.5 501.2h1.2v1.2h-1.2zM207.8 498.2h1.4v1.4h-1.4zM219.2 501.2h1.6v1.6h-1.6zM236.5 500.8h1.6v1.6h-1.6zM245.6 501.5h1.2v1.2h-1.2zM247.2 500.3h1.6v1.6h-1.6zM288.4 499.9h1.6v1.6h-1.6zM300.7 501.5h1.4v1.4h-1.4zM315.6 496.4h1.2v1.2h-1.2zM324.5 498.7h1.6v1.6h-1.6zM336.3 500.3h1.6v1.6h-1.6zM350.2 501.1h1.2v1.2h-1.2zM360.9 498.4h1.6v1.6h-1.6zM376.9 499.9h1.8v1.8h-1.8zM438.4 497.3h1.2v1.2h-1.2zM451.2 501.6h1.2v1.2h-1.2zM464.3 500.0h1.4v1.4h-1.4zM493.9 501.0h1.8v1.8h-1.8zM505.6 499.6h1.4v1.4h-1.4zM524.5 499.3h1.8v1.8h-1.8zM546.6 498.5h1.2v1.2h-1.2zM605.6 497.1h1.8v1.8h-1.8zM626.2 497.6h1.4v1.4h-1.4zM133.8 502.0h1.6v1.6h-1.6zM143.4 502.1h1.8v1.8h-1.8zM203.7 503.3h1.8v1.8h-1.8zM221.4 504.4h1.4v1.4h-1.4zM237.1 505.8h1.6v1.6h-1.6zM261.1 506.3h1.8v1.8h-1.8zM297.0 503.1h1.4v1.4h-1.4zM328.0 503.1h1.6v1.6h-1.6zM365.4 503.4h1.2v1.2h-1.2zM406.6 504.1h1.4v1.4h-1.4zM412.6 506.1h1.8v1.8h-1.8zM432.0 503.9h1.6v1.6h-1.6zM456.2 504.9h1.6v1.6h-1.6zM503.8 504.3h1.4v1.4h-1.4zM528.9 505.3h1.4v1.4h-1.4zM552.0 505.3h1.4v1.4h-1.4zM135.2 507.9h1.8v1.8h-1.8zM152.7 508.3h1.2v1.2h-1.2zM173.8 510.2h1.4v1.4h-1.4zM180.0 507.9h1.2v1.2h-1.2zM221.8 511.8h1.2v1.2h-1.2zM239.1 509.0h1.2v1.2h-1.2zM277.4 509.4h1.2v1.2h-1.2zM298.7 510.2h1.8v1.8h-1.8zM345.4 507.7h1.6v1.6h-1.6zM371.2 509.5h1.8v1.8h-1.8zM413.2 508.3h1.8v1.8h-1.8zM414.2 510.3h1.6v1.6h-1.6zM445.2 510.0h1.2v1.2h-1.2zM490.0 509.7h1.6v1.6h-1.6zM531.1 507.5h1.2v1.2h-1.2zM533.6 510.5h1.8v1.8h-1.8zM547.1 508.1h1.6v1.6h-1.6zM551.0 510.1h1.4v1.4h-1.4zM556.3 507.8h1.6v1.6h-1.6zM568.7 507.4h1.4v1.4h-1.4zM591.4 509.9h1.2v1.2h-1.2zM594.8 507.8h1.6v1.6h-1.6zM610.7 509.4h1.2v1.2h-1.2zM619.1 507.5h1.2v1.2h-1.2zM154.9 515.1h1.2v1.2h-1.2zM173.2 514.9h1.2v1.2h-1.2zM182.7 513.5h1.4v1.4h-1.4zM213.2 516.6h1.4v1.4h-1.4zM248.6 517.6h1.8v1.8h-1.8zM252.4 512.9h1.8v1.8h-1.8zM261.2 516.7h1.2v1.2h-1.2zM268.2 517.1h1.6v1.6h-1.6zM277.0 512.4h1.4v1.4h-1.4zM297.3 517.2h1.4v1.4h-1.4zM303.8 515.0h1.2v1.2h-1.2zM401.3 517.0h1.6v1.6h-1.6zM413.2 513.7h1.2v1.2h-1.2zM441.3 513.7h1.8v1.8h-1.8zM452.9 516.7h1.8v1.8h-1.8zM509.2 514.1h1.6v1.6h-1.6zM528.7 515.3h1.4v1.4h-1.4zM563.2 515.5h1.4v1.4h-1.4zM570.1 515.6h1.8v1.8h-1.8zM576.0 515.1h1.2v1.2h-1.2zM139.4 523.1h1.4v1.4h-1.4zM171.2 522.5h1.2v1.2h-1.2zM179.4 521.5h1.6v1.6h-1.6zM184.3 520.2h1.4v1.4h-1.4zM194.2 522.0h1.6v1.6h-1.6zM201.4 521.9h1.8v1.8h-1.8zM221.3 521.7h1.4v1.4h-1.4zM281.5 519.8h1.2v1.2h-1.2zM307.7 520.5h1.4v1.4h-1.4zM314.8 519.0h1.8v1.8h-1.8zM323.9 520.4h1.4v1.4h-1.4zM332.5 521.2h1.4v1.4h-1.4zM353.8 518.9h1.2v1.2h-1.2zM366.2 520.8h1.6v1.6h-1.6zM402.8 518.2h1.2v1.2h-1.2zM416.0 520.9h1.6v1.6h-1.6zM425.9 518.0h1.6v1.6h-1.6zM437.7 521.6h1.2v1.2h-1.2zM463.7 520.3h1.2v1.2h-1.2zM472.6 520.6h1.4v1.4h-1.4zM486.6 522.5h1.4v1.4h-1.4zM495.6 521.5h1.8v1.8h-1.8zM521.4 521.3h1.2v1.2h-1.2zM524.5 521.9h1.4v1.4h-1.4zM539.4 519.4h1.8v1.8h-1.8zM555.0 518.1h1.8v1.8h-1.8zM587.0 522.2h1.8v1.8h-1.8zM625.0 520.0h1.6v1.6h-1.6zM133.9 524.9h1.6v1.6h-1.6zM212.4 528.0h1.2v1.2h-1.2zM217.1 523.3h1.2v1.2h-1.2zM252.3 525.3h1.8v1.8h-1.8zM259.0 524.7h1.6v1.6h-1.6zM268.2 525.2h1.4v1.4h-1.4zM334.5 525.4h1.2v1.2h-1.2zM391.2 526.1h1.4v1.4h-1.4zM398.2 523.9h1.2v1.2h-1.2zM439.1 525.6h1.6v1.6h-1.6zM471.3 525.6h1.8v1.8h-1.8zM476.3 526.1h1.8v1.8h-1.8zM483.9 528.4h1.8v1.8h-1.8zM492.3 528.2h1.4v1.4h-1.4zM507.2 526.8h1.6v1.6h-1.6zM515.1 526.3h1.4v1.4h-1.4zM531.8 527.6h1.4v1.4h-1.4zM533.8 525.2h1.2v1.2h-1.2zM555.1 528.4h1.2v1.2h-1.2zM576.2 526.1h1.6v1.6h-1.6zM581.6 526.2h1.8v1.8h-1.8zM630.3 528.5h1.2v1.2h-1.2zM143.8 529.1h1.4v1.4h-1.4zM149.9 531.0h1.4v1.4h-1.4zM198.4 532.6h1.6v1.6h-1.6zM207.8 529.1h1.8v1.8h-1.8zM211.2 531.2h1.8v1.8h-1.8zM224.2 534.0h1.6v1.6h-1.6zM238.3 531.3h1.4v1.4h-1.4zM255.2 533.6h1.2v1.2h-1.2zM259.4 531.7h1.4v1.4h-1.4zM262.7 531.4h1.4v1.4h-1.4zM275.3 531.9h1.6v1.6h-1.6zM299.2 530.7h1.8v1.8h-1.8zM310.8 532.6h1.4v1.4h-1.4zM351.1 529.8h1.2v1.2h-1.2zM358.1 531.4h1.4v1.4h-1.4zM403.6 531.5h1.2v1.2h-1.2zM444.3 532.6h1.4v1.4h-1.4zM459.0 533.0h1.6v1.6h-1.6zM479.0 531.1h1.8v1.8h-1.8zM488.8 529.3h1.2v1.2h-1.2zM489.4 529.6h1.4v1.4h-1.4zM503.8 529.7h1.6v1.6h-1.6zM554.3 529.1h1.2v1.2h-1.2zM580.0 531.5h1.2v1.2h-1.2zM607.1 530.0h1.8v1.8h-1.8zM612.0 528.8h1.2v1.2h-1.2zM626.8 533.8h1.6v1.6h-1.6zM159.8 536.4h1.2v1.2h-1.2zM184.4 535.3h1.4v1.4h-1.4zM224.1 534.8h1.8v1.8h-1.8zM224.8 536.1h1.4v1.4h-1.4zM245.9 537.5h1.8v1.8h-1.8zM304.6 539.2h1.2v1.2h-1.2zM309.7 534.2h1.2v1.2h-1.2zM323.8 535.3h1.2v1.2h-1.2zM338.0 535.3h1.4v1.4h-1.4zM339.4 534.7h1.2v1.2h-1.2zM359.2 537.0h1.2v1.2h-1.2zM365.8 535.2h1.2v1.2h-1.2zM389.3 536.1h1.8v1.8h-1.8zM437.2 536.4h1.4v1.4h-1.4zM456.2 535.6h1.8v1.8h-1.8zM484.2 537.8h1.2v1.2h-1.2zM526.5 534.6h1.4v1.4h-1.4zM556.9 535.8h1.4v1.4h-1.4zM594.8 535.0h1.4v1.4h-1.4zM605.5 536.1h1.2v1.2h-1.2z" fill="#808080"/><path d="M200.6 430.7h1.6v1.6h-1.6zM259.6 429.0h1.8v1.8h-1.8zM297.5 430.7h1.8v1.8h-1.8zM339.9 426.8h1.6v1.6h-1.6zM374.0 429.3h1.4v1.4h-1.4zM380.4 430.4h1.4v1.4h-1.4zM382.5 428.7h1.2v1.2h-1.2zM394.6 431.1h1.6v1.6h-1.6zM404.1 429.4h1.2v1.2h-1.2zM411.0 429.5h1.2v1.2h-1.2zM421.8 427.0h1.6v1.6h-1.6zM445.2 426.8h1.8v1.8h-1.8zM477.7 426.3h1.8v1.8h-1.8zM493.6 429.3h1.4v1.4h-1.4zM555.0 430.8h1.4v1.4h-1.4zM563.6 426.5h1.4v1.4h-1.4zM589.4 426.3h1.4v1.4h-1.4zM602.3 427.0h1.8v1.8h-1.8zM607.4 429.7h1.8v1.8h-1.8zM628.7 426.5h1.2v1.2h-1.2zM174.3 434.3h1.6v1.6h-1.6zM187.1 434.8h1.8v1.8h-1.8zM193.3 431.9h1.6v1.6h-1.6zM238.8 434.3h1.8v1.8h-1.8zM261.7 434.6h1.4v1.4h-1.4zM281.3 431.8h1.2v1.2h-1.2zM287.8 431.8h1.6v1.6h-1.6zM340.7 435.8h1.8v1.8h-1.8zM349.0 433.5h1.4v1.4h-1.4zM349.4 431.9h1.6v1.6h-1.6zM359.5 432.1h1.6v1.6h-1.6zM367.3 432.3h1.8v1.8h-1.8zM385.9 432.0h1.2v1.2h-1.2zM407.5 432.9h1.4v1.4h-1.4zM502.5 433.1h1.2v1.2h-1.2zM506.3 433.7h1.8v1.8h-1.8zM570.7 432.4h1.8v1.8h-1.8zM633.8 436.8h1.6v1.6h-1.6zM150.7 438.7h1.2v1.2h-1.2zM181.8 437.1h1.6v1.6h-1.6zM201.8 440.5h1.6v1.6h-1.6zM203.2 440.9h1.2v1.2h-1.2zM229.1 440.8h1.4v1.4h-1.4zM258.3 439.1h1.8v1.8h-1.8zM291.4 438.9h1.4v1.4h-1.4zM301.0 439.4h1.8v1.8h-1.8zM311.5 440.0h1.4v1.4h-1.4zM321.6 438.8h1.8v1.8h-1.8zM338.4 440.8h1.2v1.2h-1.2zM376.1 440.9h1.4v1.4h-1.4zM383.5 439.0h1.8v1.8h-1.8zM391.7 439.1h1.8v1.8h-1.8zM395.3 438.8h1.4v1.4h-1.4zM414.4 439.4h1.4v1.4h-1.4zM434.9 440.1h1.4v1.4h-1.4zM452.9 440.7h1.2v1.2h-1.2zM500.4 437.5h1.6v1.6h-1.6zM521.8 440.8h1.4v1.4h-1.4zM571.8 439.7h1.6v1.6h-1.6zM630.3 440.2h1.6v1.6h-1.6zM154.7 445.2h1.4v1.4h-1.4zM180.1 442.2h1.8v1.8h-1.8zM201.5 447.2h1.6v1.6h-1.6zM209.5 447.1h1.4v1.4h-1.4zM221.2 443.5h1.8v1.8h-1.8zM283.9 447.1h1.2v1.2h-1.2zM305.4 442.5h1.6v1.6h-1.6zM324.9 443.4h1.2v1.2h-1.2zM340.9 444.9h1.4v1.4h-1.4zM348.8 445.4h1.6v1.6h-1.6zM352.1 443.1h1.4v1.4h-1.4zM415.2 446.3h1.4v1.4h-1.4zM440.7 446.5h1.8v1.8h-1.8zM442.3 442.8h1.6v1.6h-1.6zM462.4 443.5h1.8v1.8h-1.8zM480.0 446.0h1.4v1.4h-1.4zM497.6 445.8h1.6v1.6h-1.6zM524.6 444.4h1.4v1.4h-1.4zM560.3 446.4h1.4v1.4h-1.4zM572.3 445.6h1.8v1.8h-1.8zM585.4 444.7h1.4v1.4h-1.4zM595.7 444.8h1.6v1.6h-1.6zM618.1 447.1h1.4v1.4h-1.4zM134.9 448.4h1.4v1.4h-1.4zM141.7 451.3h1.2v1.2h-1.2zM147.4 452.4h1.6v1.6h-1.6zM173.5 450.5h1.2v1.2h-1.2zM223.9 449.2h1.8v1.8h-1.8zM226.6 452.9h1.6v1.6h-1.6zM235.5 451.1h1.6v1.6h-1.6zM297.7 450.4h1.8v1.8h-1.8zM309.5 450.8h1.4v1.4h-1.4zM322.1 451.2h1.2v1.2h-1.2zM336.7 448.9h1.4v1.4h-1.4zM343.2 449.6h1.4v1.4h-1.4zM368.5 449.3h1.8v1.8h-1.8zM373.1 448.5h1.2v1.2h-1.2zM395.6 451.1h1.6v1.6h-1.6zM420.6 448.4h1.2v1.2h-1.2zM426.2 448.4h1.4v1.4h-1.4zM431.5 452.2h1.8v1.8h-1.8zM441.9 451.7h1.4v1.4h-1.4zM459.5 448.1h1.2v1.2h-1.2zM463.7 450.7h1.6v1.6h-1.6zM489.0 450.3h1.6v1.6h-1.6zM515.1 452.0h1.6v1.6h-1.6zM521.0 449.4h1.8v1.8h-1.8zM529.8 452.2h1.8v1.8h-1.8zM541.0 451.1h1.8v1.8h-1.8zM564.1 447.9h1.8v1.8h-1.8zM565.3 448.4h1.4v1.4h-1.4zM596.3 448.4h1.2v1.2h-1.2zM602.4 452.3h1.4v1.4h-1.4zM607.0 452.8h1.8v1.8h-1.8zM627.4 448.4h1.6v1.6h-1.6zM147.2 457.3h1.8v1.8h-1.8zM153.7 453.6h1.6v1.6h-1.6zM160.5 454.6h1.2v1.2h-1.2zM202.6 456.9h1.4v1.4h-1.4zM221.2 457.5h1.8v1.8h-1.8zM225.3 455.2h1.4v1.4h-1.4zM242.9 458.0h1.2v1.2h-1.2zM247.1 456.9h1.6v1.6h-1.6zM258.8 453.6h1.8v1.8h-1.8zM274.0 454.4h1.2v1.2h-1.2zM278.9 458.0h1.6v1.6h-1.6zM293.4 453.6h1.4v1.4h-1.4zM301.0 453.7h1.4v1.4h-1.4zM312.1 457.5h1.8v1.8h-1.8zM324.1 458.1h1.6v1.6h-1.6zM363.2 457.4h1.2v1.2h-1.2zM387.1 458.2h1.6v1.6h-1.6zM392.7 456.2h1.8v1.8h-1.8zM406.1 454.5h1.6v1.6h-1.6zM430.1 454.9h1.4v1.4h-1.4zM456.1 454.9h1.4v1.4h-1.4zM462.3 456.7h1.8v1.8h-1.8zM472.2 455.8h1.8v1.8h-1.8zM509.1 453.0h1.8v1.8h-1.8zM523.5 457.6h1.6v1.6h-1.6zM528.3 455.3h1.2v1.2h-1.2zM532.7 454.4h1.6v1.6h-1.6zM576.7 454.7h1.6v1.6h-1.6zM584.0 453.6h1.6v1.6h-1.6zM591.0 458.3h1.8v1.8h-1.8zM595.4 455.8h1.4v1.4h-1.4zM139.3 461.2h1.8v1.8h-1.8zM156.0 458.9h1.2v1.2h-1.2zM166.6 460.5h1.2v1.2h-1.2zM192.2 461.1h1.4v1.4h-1.4zM224.6 460.7h1.4v1.4h-1.4zM244.0 460.9h1.4v1.4h-1.4zM281.7 459.9h1.8v1.8h-1.8zM306.3 460.0h1.8v1.8h-1.8zM312.7 460.6h1.4v1.4h-1.4zM333.8 459.0h1.4v1.4h-1.4zM352.0 461.8h1.4v1.4h-1.4zM363.4 461.5h1.2v1.2h-1.2zM401.3 462.4h1.8v1.8h-1.8zM411.0 459.4h1.6v1.6h-1.6zM414.7 459.3h1.4v1.4h-1.4zM460.2 460.9h1.4v1.4h-1.4zM484.2 460.9h1.8v1.8h-1.8zM489.9 462.3h1.6v1.6h-1.6zM509.1 461.8h1.6v1.6h-1.6zM514.5 458.8h1.2v1.2h-1.2zM527.0 461.2h1.4v1.4h-1.4zM139.0 464.8h1.2v1.2h-1.2zM164.6 467.5h1.4v1.4h-1.4zM233.9 463.9h1.8v1.8h-1.8zM300.5 466.3h1.2v1.2h-1.2zM329.4 465.3h1.4v1.4h-1.4zM336.5 465.4h1.6v1.6h-1.6zM351.7 468.6h1.6v1.6h-1.6zM355.2 464.9h1.8v1.8h-1.8zM362.0 465.9h1.4v1.4h-1.4zM374.5 466.8h1.6v1.6h-1.6zM376.4 464.8h1.4v1.4h-1.4zM390.7 468.8h1.6v1.6h-1.6zM436.3 468.5h1.2v1.2h-1.2zM508.6 464.8h1.6v1.6h-1.6zM515.0 468.7h1.4v1.4h-1.4zM545.6 468.8h1.4v1.4h-1.4zM555.4 464.9h1.6v1.6h-1.6zM567.6 468.8h1.4v1.4h-1.4zM582.3 464.1h1.6v1.6h-1.6zM601.7 464.6h1.4v1.4h-1.4zM607.7 464.6h1.2v1.2h-1.2zM133.3 469.8h1.4v1.4h-1.4zM147.2 472.1h1.6v1.6h-1.6zM201.5 473.1h1.4v1.4h-1.4zM224.6 469.2h1.8v1.8h-1.8zM227.6 472.4h1.4v1.4h-1.4zM234.7 473.5h1.6v1.6h-1.6zM247.8 473.7h1.6v1.6h-1.6zM275.1 471.2h1.8v1.8h-1.8zM327.9 472.6h1.4v1.4h-1.4zM371.2 472.2h1.8v1.8h-1.8zM378.2 471.8h1.8v1.8h-1.8zM383.5 469.9h1.2v1.2h-1.2zM437.1 470.6h1.8v1.8h-1.8zM495.5 474.0h1.8v1.8h-1.8zM583.8 469.3h1.2v1.2h-1.2zM593.1 471.7h1.4v1.4h-1.4zM608.0 471.1h1.6v1.6h-1.6zM181.0 474.7h1.8v1.8h-1.8zM187.5 475.5h1.2v1.2h-1.2zM252.9 478.0h1.8v1.8h-1.8zM266.9 477.3h1.8v1.8h-1.8zM268.7 479.1h1.2v1.2h-1.2zM277.4 479.1h1.4v1.4h-1.4zM281.2 479.1h1.6v1.6h-1.6zM290.0 478.8h1.4v1.4h-1.4zM303.5 479.6h1.2v1.2h-1.2zM307.9 478.8h1.6v1.6h-1.6zM358.1 474.8h1.4v1.4h-1.4zM372.3 476.3h1.4v1.4h-1.4zM381.4 475.5h1.8v1.8h-1.8zM389.9 478.1h1.2v1.2h-1.2zM397.5 478.6h1.8v1.8h-1.8zM427.6 477.0h1.4v1.4h-1.4zM438.0 474.6h1.6v1.6h-1.6zM455.0 475.9h1.2v1.2h-1.2zM488.9 477.8h1.6v1.6h-1.6zM507.0 475.7h1.8v1.8h-1.8zM553.3 478.4h1.4v1.4h-1.4zM563.8 476.7h1.6v1.6h-1.6zM574.2 475.4h1.8v1.8h-1.8zM593.2 478.5h1.4v1.4h-1.4zM598.2 478.2h1.2v1.2h-1.2zM607.7 479.5h1.8v1.8h-1.8zM628.1 479.9h1.6v1.6h-1.6zM134.2 482.5h1.8v1.8h-1.8zM150.8 485.1h1.4v1.4h-1.4zM161.2 480.9h1.6v1.6h-1.6zM177.4 484.7h1.6v1.6h-1.6zM186.8 481.8h1.2v1.2h-1.2zM199.3 481.0h1.2v1.2h-1.2zM212.8 481.1h1.6v1.6h-1.6zM218.0 485.1h1.2v1.2h-1.2zM245.2 481.9h1.6v1.6h-1.6zM250.6 482.5h1.6v1.6h-1.6zM256.1 482.6h1.4v1.4h-1.4zM271.8 485.1h1.8v1.8h-1.8zM284.3 484.4h1.2v1.2h-1.2zM292.1 480.2h1.2v1.2h-1.2zM306.9 481.9h1.2v1.2h-1.2zM328.3 483.5h1.4v1.4h-1.4zM336.7 482.5h1.4v1.4h-1.4zM360.1 481.3h1.4v1.4h-1.4zM410.5 480.0h1.2v1.2h-1.2zM414.8 482.7h1.4v1.4h-1.4zM441.6 483.3h1.4v1.4h-1.4zM461.9 484.0h1.2v1.2h-1.2zM472.4 482.3h1.4v1.4h-1.4zM493.5 484.5h1.6v1.6h-1.6zM532.3 482.2h1.2v1.2h-1.2zM536.1 481.2h1.2v1.2h-1.2zM579.3 482.8h1.8v1.8h-1.8zM590.4 480.9h1.2v1.2h-1.2zM631.2 485.0h1.6v1.6h-1.6zM148.7 486.3h1.2v1.2h-1.2zM159.2 486.7h1.6v1.6h-1.6zM189.0 487.9h1.2v1.2h-1.2zM192.8 486.6h1.8v1.8h-1.8zM209.0 486.8h1.8v1.8h-1.8zM218.2 486.1h1.6v1.6h-1.6zM219.9 486.9h1.2v1.2h-1.2zM233.0 488.8h1.2v1.2h-1.2zM247.2 489.7h1.2v1.2h-1.2zM256.4 487.4h1.4v1.4h-1.4zM293.0 486.6h1.4v1.4h-1.4zM349.5 487.8h1.2v1.2h-1.2zM359.3 485.8h1.4v1.4h-1.4zM390.3 487.6h1.6v1.6h-1.6zM395.9 485.8h1.8v1.8h-1.8zM398.7 487.2h1.8v1.8h-1.8zM410.9 487.2h1.8v1.8h-1.8zM455.3 489.1h1.8v1.8h-1.8zM459.0 490.6h1.4v1.4h-1.4zM465.8 489.2h1.4v1.4h-1.4zM477.6 488.6h1.2v1.2h-1.2zM484.2 489.7h1.2v1.2h-1.2zM500.8 490.4h1.4v1.4h-1.4zM541.9 486.6h1.8v1.8h-1.8zM593.2 489.6h1.6v1.6h-1.6zM149.9 495.4h1.4v1.4h-1.4zM180.0 492.5h1.8v1.8h-1.8zM182.5 491.7h1.8v1.8h-1.8zM190.8 492.8h1.8v1.8h-1.8zM238.9 495.7h1.6v1.6h-1.6zM242.2 492.5h1.6v1.6h-1.6zM252.4 492.0h1.8v1.8h-1.8zM282.4 491.1h1.4v1.4h-1.4zM293.9 495.4h1.6v1.6h-1.6zM297.5 493.3h1.4v1.4h-1.4zM307.6 490.9h1.4v1.4h-1.4zM329.1 492.7h1.6v1.6h-1.6zM340.8 493.0h1.4v1.4h-1.4zM354.5 491.5h1.4v1.4h-1.4zM362.6 495.2h1.6v1.6h-1.6zM371.8 495.6h1.8v1.8h-1.8zM395.5 492.8h1.4v1.4h-1.4zM407.7 492.8h1.4v1.4h-1.4zM411.1 495.7h1.4v1.4h-1.4zM443.7 492.1h1.4v1.4h-1.4zM475.7 494.2h1.6v1.6h-1.6zM480.8 494.7h1.4v1.4h-1.4zM502.5 495.3h1.8v1.8h-1.8zM530.7 493.3h1.2v1.2h-1.2zM561.1 491.5h1.2v1.2h-1.2zM584.5 493.9h1.2v1.2h-1.2zM593.5 492.6h1.4v1.4h-1.4zM618.7 493.8h1.2v1.2h-1.2zM623.2 491.6h1.2v1.2h-1.2zM166.3 501.0h1.2v1.2h-1.2zM173.2 499.6h1.8v1.8h-1.8zM224.2 497.2h1.4v1.4h-1.4zM229.1 500.5h1.6v1.6h-1.6zM255.0 498.5h1.2v1.2h-1.2zM265.9 498.6h1.6v1.6h-1.6zM280.3 498.2h1.8v1.8h-1.8zM300.2 496.5h1.6v1.6h-1.6zM307.7 500.8h1.6v1.6h-1.6zM317.0 500.5h1.4v1.4h-1.4zM340.0 497.1h1.8v1.8h-1.8zM357.8 499.1h1.8v1.8h-1.8zM386.2 501.1h1.8v1.8h-1.8zM399.6 501.4h1.4v1.4h-1.4zM482.2 498.3h1.2v1.2h-1.2zM484.4 500.7h1.2v1.2h-1.2zM496.8 499.8h1.2v1.2h-1.2zM529.7 500.3h1.4v1.4h-1.4zM534.9 497.5h1.4v1.4h-1.4zM542.8 498.1h1.8v1.8h-1.8zM550.0 499.8h1.8v1.8h-1.8zM560.7 497.6h1.2v1.2h-1.2zM566.8 496.6h1.2v1.2h-1.2zM576.7 498.5h1.2v1.2h-1.2zM589.3 501.5h1.4v1.4h-1.4zM599.2 496.8h1.4v1.4h-1.4zM630.0 498.4h1.2v1.2h-1.2zM145.2 502.1h1.8v1.8h-1.8zM150.8 506.6h1.8v1.8h-1.8zM163.8 504.7h1.2v1.2h-1.2zM172.1 502.8h1.6v1.6h-1.6zM187.5 505.5h1.4v1.4h-1.4zM213.8 505.1h1.4v1.4h-1.4zM215.7 502.7h1.4v1.4h-1.4zM243.8 502.9h1.8v1.8h-1.8zM249.3 503.2h1.2v1.2h-1.2zM256.2 504.2h1.4v1.4h-1.4zM264.5 505.7h1.4v1.4h-1.4zM305.2 506.2h1.8v1.8h-1.8zM318.4 506.2h1.8v1.8h-1.8zM324.3 502.4h1.2v1.2h-1.2zM355.5 506.2h1.4v1.4h-1.4zM362.3 505.8h1.2v1.2h-1.2zM401.8 504.2h1.2v1.2h-1.2zM414.7 506.8h1.8v1.8h-1.8zM428.3 502.0h1.4v1.4h-1.4zM450.9 502.7h1.6v1.6h-1.6zM458.5 502.1h1.6v1.6h-1.6zM467.0 503.6h1.6v1.6h-1.6zM490.3 506.6h1.2v1.2h-1.2zM495.0 502.8h1.8v1.8h-1.8zM584.8 503.2h1.2v1.2h-1.2zM598.6 502.1h1.8v1.8h-1.8zM610.2 506.0h1.4v1.4h-1.4zM615.1 505.6h1.4v1.4h-1.4zM632.5 501.7h1.6v1.6h-1.6zM146.3 509.7h1.4v1.4h-1.4zM185.8 510.7h1.8v1.8h-1.8zM193.2 507.9h1.6v1.6h-1.6zM203.7 510.9h1.4v1.4h-1.4zM218.5 507.1h1.4v1.4h-1.4zM227.7 508.2h1.6v1.6h-1.6zM233.6 510.2h1.4v1.4h-1.4zM263.8 508.3h1.8v1.8h-1.8zM291.9 510.3h1.8v1.8h-1.8zM301.9 511.5h1.8v1.8h-1.8zM325.4 510.4h1.8v1.8h-1.8zM349.2 508.6h1.4v1.4h-1.4zM368.5 510.4h1.2v1.2h-1.2zM383.1 510.5h1.8v1.8h-1.8zM389.6 510.0h1.2v1.2h-1.2zM395.7 508.4h1.4v1.4h-1.4zM424.1 509.4h1.2v1.2h-1.2zM434.4 509.0h1.2v1.2h-1.2zM454.8 508.7h1.2v1.2h-1.2zM496.8 509.2h1.6v1.6h-1.6zM510.7 508.4h1.4v1.4h-1.4zM538.2 508.0h1.8v1.8h-1.8zM565.0 509.5h1.4v1.4h-1.4zM625.7 508.5h1.6v1.6h-1.6zM632.9 507.2h1.2v1.2h-1.2zM136.4 515.6h1.8v1.8h-1.8zM152.4 517.4h1.6v1.6h-1.6zM161.8 516.2h1.6v1.6h-1.6zM169.0 517.5h1.8v1.8h-1.8zM195.8 513.3h1.4v1.4h-1.4zM234.7 517.0h1.8v1.8h-1.8zM239.4 517.6h1.8v1.8h-1.8zM266.6 514.9h1.6v1.6h-1.6zM286.0 515.3h1.8v1.8h-1.8zM294.5 515.5h1.2v1.2h-1.2zM315.0 516.2h1.4v1.4h-1.4zM316.8 515.9h1.4v1.4h-1.4zM326.0 516.9h1.6v1.6h-1.6zM330.7 513.2h1.2v1.2h-1.2zM339.0 514.8h1.6v1.6h-1.6zM349.3 513.1h1.2v1.2h-1.2zM356.5 515.4h1.2v1.2h-1.2zM368.1 512.6h1.8v1.8h-1.8zM373.3 513.2h1.2v1.2h-1.2zM377.2 517.5h1.4v1.4h-1.4zM386.3 512.7h1.6v1.6h-1.6zM387.3 516.5h1.6v1.6h-1.6zM419.7 513.9h1.8v1.8h-1.8zM440.4 512.4h1.8v1.8h-1.8zM481.0 515.5h1.6v1.6h-1.6zM534.9 512.5h1.4v1.4h-1.4zM555.9 513.0h1.8v1.8h-1.8zM572.2 514.5h1.8v1.8h-1.8zM591.4 513.7h1.8v1.8h-1.8zM634.9 517.3h1.4v1.4h-1.4zM189.6 518.0h1.4v1.4h-1.4zM207.5 521.2h1.6v1.6h-1.6zM211.5 521.0h1.4v1.4h-1.4zM235.4 519.4h1.8v1.8h-1.8zM237.1 522.6h1.6v1.6h-1.6zM245.1 521.5h1.6v1.6h-1.6zM247.8 522.9h1.2v1.2h-1.2zM253.0 519.0h1.8v1.8h-1.8zM258.6 519.6h1.6v1.6h-1.6zM264.1 520.6h1.4v1.4h-1.4zM286.1 522.8h1.4v1.4h-1.4zM298.3 518.3h1.4v1.4h-1.4zM358.1 520.3h1.4v1.4h-1.4zM363.0 518.3h1.2v1.2h-1.2zM374.3 520.0h1.2v1.2h-1.2zM377.6 521.2h1.8v1.8h-1.8zM395.9 520.1h1.2v1.2h-1.2zM406.3 517.9h1.8v1.8h-1.8zM419.9 523.2h1.4v1.4h-1.4zM430.7 520.0h1.2v1.2h-1.2zM443.5 521.0h1.2v1.2h-1.2zM448.4 518.5h1.4v1.4h-1.4zM452.4 520.6h1.4v1.4h-1.4zM493.5 519.4h1.4v1.4h-1.4zM501.1 519.7h1.6v1.6h-1.6zM563.2 522.7h1.4v1.4h-1.4zM576.4 521.0h1.8v1.8h-1.8zM596.3 522.9h1.4v1.4h-1.4zM605.5 521.7h1.4v1.4h-1.4zM610.6 519.0h1.2v1.2h-1.2zM152.4 525.6h1.6v1.6h-1.6zM176.9 528.1h1.8v1.8h-1.8zM208.5 527.7h1.2v1.2h-1.2zM227.4 526.1h1.8v1.8h-1.8zM237.7 527.4h1.6v1.6h-1.6zM244.8 527.2h1.6v1.6h-1.6zM276.4 527.1h1.8v1.8h-1.8zM290.3 524.8h1.2v1.2h-1.2zM297.7 524.1h1.4v1.4h-1.4zM326.7 528.2h1.2v1.2h-1.2zM345.3 524.0h1.2v1.2h-1.2zM376.7 523.6h1.2v1.2h-1.2zM414.6 526.0h1.8v1.8h-1.8zM428.3 524.8h1.8v1.8h-1.8zM446.0 523.2h1.8v1.8h-1.8zM539.8 526.3h1.8v1.8h-1.8zM546.6 523.8h1.6v1.6h-1.6zM550.6 527.1h1.4v1.4h-1.4zM591.3 524.6h1.2v1.2h-1.2zM624.1 525.0h1.8v1.8h-1.8zM187.0 533.6h1.8v1.8h-1.8zM190.8 530.3h1.4v1.4h-1.4zM226.8 531.8h1.4v1.4h-1.4zM231.5 532.3h1.8v1.8h-1.8zM242.1 530.5h1.2v1.2h-1.2zM279.9 533.5h1.6v1.6h-1.6zM289.7 532.4h1.2v1.2h-1.2zM304.4 530.5h1.2v1.2h-1.2zM314.4 529.5h1.8v1.8h-1.8zM318.3 530.0h1.8v1.8h-1.8zM335.6 533.2h1.8v1.8h-1.8zM342.6 532.9h1.2v1.2h-1.2zM345.1 530.7h1.4v1.4h-1.4zM365.1 532.8h1.2v1.2h-1.2zM376.0 530.7h1.6v1.6h-1.6zM378.3 529.3h1.8v1.8h-1.8zM388.6 530.8h1.4v1.4h-1.4zM393.9 533.2h1.4v1.4h-1.4zM435.2 531.1h1.4v1.4h-1.4zM438.3 531.2h1.6v1.6h-1.6zM446.6 534.0h1.4v1.4h-1.4zM511.6 531.6h1.8v1.8h-1.8zM560.2 530.6h1.8v1.8h-1.8zM567.9 530.4h1.8v1.8h-1.8zM573.5 531.6h1.4v1.4h-1.4zM589.0 529.8h1.4v1.4h-1.4zM596.0 529.0h1.8v1.8h-1.8zM601.2 532.5h1.8v1.8h-1.8zM617.1 529.5h1.6v1.6h-1.6zM140.3 535.7h1.8v1.8h-1.8zM163.5 537.2h1.6v1.6h-1.6zM194.9 538.7h1.6v1.6h-1.6zM202.1 534.6h1.6v1.6h-1.6zM210.6 538.6h1.4v1.4h-1.4zM214.3 534.9h1.8v1.8h-1.8zM232.9 537.3h1.6v1.6h-1.6zM238.8 534.3h1.4v1.4h-1.4zM253.5 538.5h1.6v1.6h-1.6zM263.4 538.2h1.2v1.2h-1.2zM268.7 536.7h1.8v1.8h-1.8zM313.8 538.0h1.2v1.2h-1.2zM374.6 535.6h1.8v1.8h-1.8zM379.0 535.9h1.4v1.4h-1.4zM397.7 534.8h1.6v1.6h-1.6zM404.7 537.2h1.8v1.8h-1.8zM462.0 537.0h1.8v1.8h-1.8zM489.6 536.4h1.4v1.4h-1.4zM495.0 534.7h1.4v1.4h-1.4zM501.2 538.5h1.2v1.2h-1.2zM516.7 537.0h1.8v1.8h-1.8zM531.3 538.9h1.2v1.2h-1.2zM542.1 534.4h1.8v1.8h-1.8zM553.1 538.5h1.4v1.4h-1.4zM570.8 535.5h1.6v1.6h-1.6zM583.8 538.7h1.2v1.2h-1.2zM617.1 534.9h1.6v1.6h-1.6zM626.0 538.4h1.4v1.4h-1.4z" fill="#aaaaaa"/></g><path d="M135,471 L135,534 L632,534 L632,470" fill="none" stroke="#b0b0b0" stroke-width="1.3" /><path d="M205,370 L430,341 L555,363 L555,455 C540,462 500,470 458,472 L330,489 L205,461 Z" fill="#fff"/><path d="M220,446.5 L405,423 Q408.5,422.6 412,422.6 L446,422.6 Q449,422.6 452,423.3 L543,439 L543,452 L555,454.4 C548,458 530,462 510,464.5 L458,467.5 L330,483 L222,459 L220,459 Z" fill="#c9c9c9"/><path d="M205,461 L330,489.4 L458,472 C500,469 535,463 555,455" fill="none" stroke="#666" stroke-width="1" /><path d="M205,461 L408.5,435.3 L449,435.3 L555,454.5" fill="none" stroke="#333" stroke-width="1.1" /><line x1="205" y1="370" x2="205" y2="461" stroke="#888" stroke-width="1.1"/><line x1="330" y1="402" x2="330" y2="489" stroke="#999" stroke-width="1.1"/><line x1="555" y1="363" x2="555" y2="455" stroke="#777" stroke-width="1.1"/><line x1="135" y1="471" x2="205" y2="462" stroke="#333" stroke-width="1.6"/><path d="M555,455 L620,469.6 L632,470.5" fill="none" stroke="#333" stroke-width="1.5" /><ellipse cx="429" cy="447.3" rx="22.5" ry="8.7" fill="#595959"/><ellipse cx="429" cy="446.6" rx="8.3" ry="3" fill="#fff" stroke="#333" stroke-width="0.8"/><line x1="142" y1="490" x2="429" y2="447" stroke="#333" stroke-width="1.5"/><path d="M429,447 L560,473.3 L609,485" fill="none" stroke="#333" stroke-width="1.5" /><line x1="135" y1="215.2" x2="364" y2="184" stroke="#444" stroke-width="1"/><line x1="147.5" y1="222" x2="147.5" y2="273.3" stroke="#222" stroke-width="1.1"/><line x1="147.5" y1="308" x2="147.5" y2="460" stroke="#222" stroke-width="1.1"/><polygon points="147.5,213.7 151.0,225.7 144.0,225.7" fill="#111"/><polygon points="147.5,468.0 144.0,456.0 151.0,456.0" fill="#111"/><text x="140" y="297" font-size="12.3" fill="#222" text-anchor="start" textLength="67" lengthAdjust="spacingAndGlyphs">115-125 cm</text><line x1="365.3" y1="110.7" x2="365.3" y2="181" stroke="#333" stroke-width="1.1"/><line x1="365.3" y1="123.6" x2="430" y2="116.4" stroke="#222" stroke-width="1.1"/><polygon points="430.0,116.4 421.4,120.4 420.7,114.4" fill="#111"/><polygon points="365.3,123.6 373.9,119.6 374.6,125.6" fill="#111"/><text x="397.3" y="115" font-size="12.2" fill="#222" text-anchor="middle" transform="rotate(-6 397.3 115)" >10 cm</text><line x1="394.8" y1="150" x2="394.8" y2="176" stroke="#333" stroke-width="1.1"/><line x1="395" y1="161.4" x2="430" y2="159" stroke="#222" stroke-width="1.1"/><polygon points="430.0,159.0 422.2,162.3 421.8,156.8" fill="#111"/><polygon points="395.0,161.4 402.8,158.1 403.2,163.6" fill="#111"/><text x="412.7" y="155.5" font-size="12.2" fill="#222" text-anchor="middle" transform="rotate(-4 412.7 155.5)" >4 cm</text><circle cx="365.3" cy="185" r="4" fill="#7a7a7a" stroke="#555" stroke-width="0.8"/><circle cx="394.8" cy="179.8" r="4" fill="#7a7a7a" stroke="#555" stroke-width="0.8"/><line x1="238.6" y1="315.4" x2="238.6" y2="389" stroke="#333" stroke-width="1.1"/><line x1="239" y1="327.4" x2="429" y2="303.2" stroke="#222" stroke-width="1.1"/><polygon points="429.0,303.2 420.4,307.0 419.7,301.7" fill="#111"/><polygon points="239.0,327.4 247.6,323.6 248.3,328.9" fill="#111"/><text x="330" y="312.5" font-size="12.4" fill="#222" text-anchor="middle" transform="rotate(-7.2 330 312.5)" >150 cm</text><line x1="531.8" y1="306.8" x2="531.8" y2="377" stroke="#333" stroke-width="1.1"/><line x1="431" y1="303" x2="531" y2="320.5" stroke="#222" stroke-width="1.1"/><polygon points="531.0,320.5 521.7,321.6 522.6,316.3" fill="#111"/><polygon points="431.0,303.0 440.3,301.9 439.4,307.2" fill="#111"/><text x="487" y="310.5" font-size="12.2" fill="#222" text-anchor="middle" transform="rotate(9.6 487 310.5)" >72 cm</text><line x1="502.5" y1="336" x2="502.5" y2="373.6" stroke="#333" stroke-width="1.1"/><line x1="431" y1="332.6" x2="501.8" y2="344" stroke="#222" stroke-width="1.1"/><polygon points="501.8,344.0 492.5,345.2 493.3,339.9" fill="#111"/><polygon points="431.0,332.6 440.3,331.4 439.5,336.7" fill="#111"/><text x="467" y="337" font-size="12.2" fill="#222" text-anchor="middle" transform="rotate(9.3 467 337)" >62 cm</text><line x1="176.7" y1="409" x2="225.5" y2="401.7" stroke="#444" stroke-width="1"/><line x1="195" y1="409" x2="195" y2="462" stroke="#222" stroke-width="1.1"/><polygon points="195.0,462.0 191.5,450.0 198.5,450.0" fill="#111"/><polygon points="195.0,409.0 198.5,421.0 191.5,421.0" fill="#111"/><text x="158" y="437" font-size="12.2" fill="#222" text-anchor="start" >42 cm</text><line x1="555.6" y1="396.4" x2="632.6" y2="410.8" stroke="#444" stroke-width="1.1"/><line x1="591.5" y1="405" x2="591.5" y2="462.3" stroke="#222" stroke-width="1.1"/><polygon points="591.5,462.3 588.0,450.3 595.0,450.3" fill="#111"/><polygon points="591.5,405.0 595.0,417.0 588.0,417.0" fill="#111"/><text x="594" y="438.5" font-size="12.2" fill="#222" text-anchor="start" >42 cm</text><line x1="149" y1="469" x2="180" y2="484" stroke="#222" stroke-width="1.1"/><polygon points="180.0,484.0 171.5,483.2 174.1,477.8" fill="#111"/><polygon points="149.0,469.0 157.5,469.8 154.9,475.2" fill="#111"/><text x="188.2" y="477.8" font-size="12.2" fill="#222" text-anchor="middle" transform="rotate(1.5 188.2 477.8)" >50 cm</text><line x1="574.5" y1="476.4" x2="591" y2="463.6" stroke="#222" stroke-width="1.1"/><polygon points="591.0,463.6 587.3,470.3 583.6,465.5" fill="#111"/><polygon points="574.5,476.4 578.2,469.7 581.9,474.5" fill="#111"/><text x="588.5" y="477" font-size="12.2" fill="#222" text-anchor="start" >25 cm</text><line x1="276.4" y1="438.2" x2="314.5" y2="433.3" stroke="#444" stroke-width="1"/><line x1="282.2" y1="439.5" x2="282.2" y2="451" stroke="#222" stroke-width="1.1"/><polygon points="282.2,451.0 280.2,447.0 284.2,447.0" fill="#111"/><polygon points="282.2,439.5 284.2,443.5 280.2,443.5" fill="#111"/><text x="305.5" y="448" font-size="12" fill="#222" text-anchor="middle" transform="rotate(-5 305.5 448)" >0-6 cm</text><path d="M205,370 L430,341 L555,363 C538,372 505,379.5 449,380.5 L408.5,388 L330,402 Z M237.5,370 L408.5,348.8 L449,348.5 L532.5,364.6 C523,370.5 506,373.6 490,373.8 L449,374.7 L408.5,381.5 L342,394 Q332,395.5 326,392.5 L237.5,373.4 Q233.5,371.8 237.5,370 Z" fill="#fff" fill-rule="evenodd"/><path d="M205,370 L430,341 L555,363 C538,372 505,379.5 449,380.5 L408.5,388 L330,402 Z" fill="none" stroke="#333" stroke-width="1.1" /><path d="M237.5,370 L408.5,348.8 L449,348.5 L532.5,364.6 C523,370.5 506,373.6 490,373.8 L449,374.7 L408.5,381.5 L342,394 Q332,395.5 326,392.5 L237.5,373.4 Q233.5,371.8 237.5,370 Z" fill="none" stroke="#333" stroke-width="1.1" /><line x1="408.5" y1="344" x2="408.5" y2="435.3" stroke="#555" stroke-width="1.1"/><line x1="449" y1="345" x2="449" y2="435.3" stroke="#555" stroke-width="1.1"/><polygon points="225.4,390.1 251.8,386.7 251.8,412.6 225.4,415.7" fill="#8c8c8c" stroke="#444" stroke-width="0.9" /><circle cx="238.4" cy="401.8" r="9.3" fill="#fff" stroke="#333" stroke-width="0.9"/><rect x="237.1" y="392.0" width="2.6" height="3.5" fill="#8c8c8c" stroke="#333" stroke-width="0.6"/><rect x="237.1" y="408.1" width="2.6" height="3.5" fill="#8c8c8c" stroke="#333" stroke-width="0.6"/><circle cx="234.3" cy="401.8" r="1.7" fill="#111"/><circle cx="242.5" cy="401.8" r="1.7" fill="#111"/><polygon points="492.5,378.8 518.2,377.3 518.2,403.2 492.5,400.3" fill="#7a7a7a" stroke="#444" stroke-width="0.9" /><polygon points="495.6,378.8 516.5,378.2 516.5,400.6 495.6,399.4" fill="#fff" stroke="#666" stroke-width="0.7" /><rect x="499.5" y="382.7" width="12.3" height="11" fill="#222" stroke="#333" stroke-width="0.6"/><rect x="503.3" y="383.6" width="1.1" height="9.2" fill="#ddd"/><rect x="507.4" y="383.6" width="1.1" height="9.2" fill="#ddd"/><polygon points="518.2,377.3 544.5,380.9 544.5,405 518.2,403.2" fill="#8c8c8c" stroke="#444" stroke-width="0.9" /><circle cx="531.4" cy="392.3" r="9.1" fill="#fff" stroke="#333" stroke-width="0.9"/><rect x="530.1" y="382.7" width="2.6" height="3.5" fill="#8c8c8c" stroke="#333" stroke-width="0.6"/><rect x="530.1" y="398.40000000000003" width="2.6" height="3.5" fill="#8c8c8c" stroke="#333" stroke-width="0.6"/><circle cx="527.3" cy="392.3" r="1.7" fill="#111"/><circle cx="535.5" cy="392.3" r="1.7" fill="#111"/><circle cx="353.8" cy="206.2" r="15.2" fill="#000"/><text x="342.3" y="214.79999999999998" font-size="24" fill="#fff" stroke="#000" stroke-width="0.4">*</text><path d="M355.90000000000003,202.6 L360.2,199.5 L360.2,214.39999999999998" fill="none" stroke="#fff" stroke-width="1.9" stroke-linejoin="miter"/><circle cx="412.2" cy="196" r="15.3" fill="#000"/><text x="400.7" y="204.6" font-size="24" fill="#fff" stroke="#000" stroke-width="0.4">*</text><text x="410.4" y="204" font-size="21.5" fill="#fff" stroke="#000" stroke-width="0.3">2</text><circle cx="261.5" cy="446.4" r="15" fill="#000"/><text x="250.0" y="455.0" font-size="24" fill="#fff" stroke="#000" stroke-width="0.4">*</text><text x="259.7" y="454.4" font-size="21.5" fill="#fff" stroke="#000" stroke-width="0.3">3</text><circle cx="394.7" cy="454.2" r="15.5" fill="#000"/><text x="383.2" y="462.8" font-size="24" fill="#fff" stroke="#000" stroke-width="0.4">*</text><text x="392.9" y="462.2" font-size="21.5" fill="#fff" stroke="#000" stroke-width="0.3">4</text><circle cx="481.2" cy="399.3" r="15" fill="#000"/><text x="469.7" y="407.90000000000003" font-size="24" fill="#fff" stroke="#000" stroke-width="0.4">*</text><text x="479.4" y="407.3" font-size="21.5" fill="#fff" stroke="#000" stroke-width="0.3">6</text><circle cx="225.8" cy="428.2" r="14.9" fill="#6c6c6c"/><text x="211.8" y="435.7" font-size="20" fill="#f0f0f0">*</text><text x="219.20000000000002" y="436.2" font-size="17.7" fill="#f0f0f0" letter-spacing="-0.6">5a</text><circle cx="553.6" cy="411.6" r="15" fill="#6c6c6c"/><text x="539.6" y="419.1" font-size="20" fill="#f0f0f0">*</text><text x="547.0" y="419.6" font-size="17.7" fill="#f0f0f0" letter-spacing="-0.6">5b</text><line x1="555.4" y1="396.5" x2="555.4" y2="426.5" stroke="#444" stroke-width="1"/><text x="642.8" y="558" font-size="19.5" fill="#ad3560" text-anchor="start" textLength="21" lengthAdjust="spacingAndGlyphs">S2</text></svg></body></html>
